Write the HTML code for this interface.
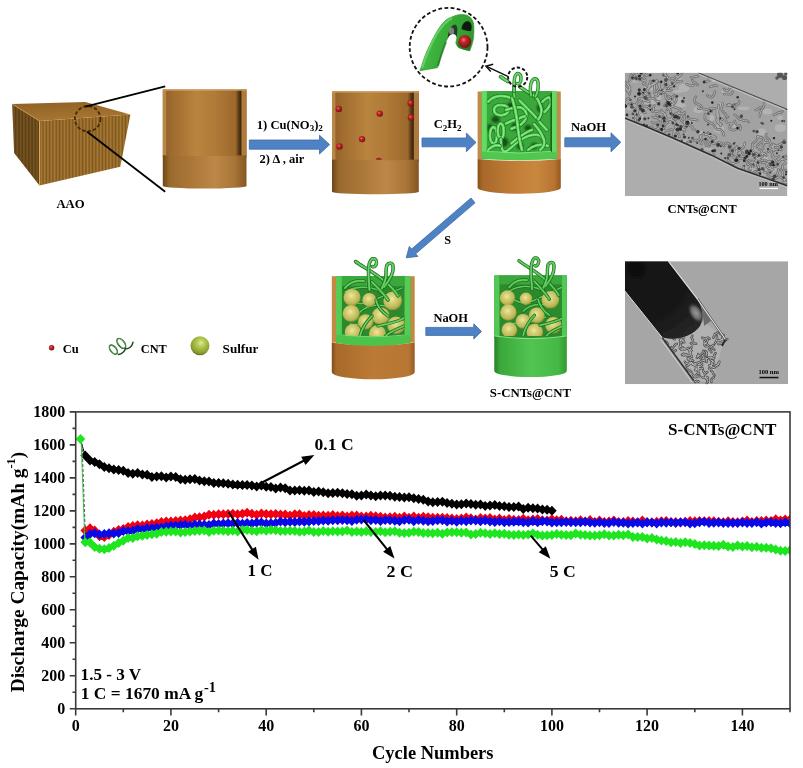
<!DOCTYPE html>
<html><head><meta charset="utf-8"><title>S-CNTs@CNT</title>
<style>
html,body{margin:0;padding:0;background:#fff;}
body{width:803px;height:768px;overflow:hidden;}
svg{display:block;}
text{font-family:"Liberation Serif","Times New Roman",serif;font-weight:bold;fill:#000;}
</style></head><body>
<svg width="803" height="768" viewBox="0 0 803 768">
<defs>
<linearGradient id="bIn" x1="0" x2="1" y1="0" y2="0">
 <stop offset="0" stop-color="#8e5e26"/><stop offset="0.12" stop-color="#a06c30"/>
 <stop offset="0.4" stop-color="#b8843e"/><stop offset="0.62" stop-color="#b07a38"/>
 <stop offset="0.9" stop-color="#9a662a"/><stop offset="1" stop-color="#845620"/>
</linearGradient>
<linearGradient id="bOut" x1="0" x2="1" y1="0" y2="0">
 <stop offset="0" stop-color="#6e4616"/><stop offset="0.08" stop-color="#9a6a2c"/>
 <stop offset="0.35" stop-color="#ac783a"/><stop offset="0.62" stop-color="#bc8848"/>
 <stop offset="0.85" stop-color="#aa7638"/><stop offset="1" stop-color="#845620"/>
</linearGradient>
<linearGradient id="bOut2" x1="0" x2="1" y1="0" y2="0">
 <stop offset="0" stop-color="#8a5016"/><stop offset="0.06" stop-color="#a8682a"/>
 <stop offset="0.45" stop-color="#c27e38"/><stop offset="0.7" stop-color="#c8883e"/>
 <stop offset="0.92" stop-color="#b87432"/><stop offset="1" stop-color="#94581c"/>
</linearGradient>
<linearGradient id="bOut3" x1="0" x2="1" y1="0" y2="0">
 <stop offset="0" stop-color="#7e4a16"/><stop offset="0.05" stop-color="#a86a2a"/>
 <stop offset="0.5" stop-color="#bc7a36"/><stop offset="0.93" stop-color="#b87634"/>
 <stop offset="1" stop-color="#965c22"/>
</linearGradient>
<linearGradient id="gIn" x1="0" x2="1" y1="0" y2="0">
 <stop offset="0" stop-color="#2f9a2f"/><stop offset="0.4" stop-color="#46b446"/>
 <stop offset="0.8" stop-color="#3aa63a"/><stop offset="1" stop-color="#2a8a2a"/>
</linearGradient>
<linearGradient id="gOut" x1="0" x2="1" y1="0" y2="0">
 <stop offset="0" stop-color="#267e26"/><stop offset="0.08" stop-color="#3aa83a"/>
 <stop offset="0.5" stop-color="#52c452"/><stop offset="0.88" stop-color="#46b846"/>
 <stop offset="1" stop-color="#329a32"/>
</linearGradient>
<linearGradient id="gWall" x1="0" x2="1" y1="0" y2="0">
 <stop offset="0" stop-color="#5cd05c"/><stop offset="1" stop-color="#78e078"/>
</linearGradient>
<radialGradient id="cu" cx="0.4" cy="0.38" r="0.68">
 <stop offset="0" stop-color="#f08080"/><stop offset="0.3" stop-color="#c42828"/>
 <stop offset="0.8" stop-color="#8a1414"/><stop offset="1" stop-color="#5a0c0c"/>
</radialGradient>
<radialGradient id="sul" cx="0.45" cy="0.4" r="0.62">
 <stop offset="0" stop-color="#eee8a0"/><stop offset="0.3" stop-color="#d8d27a"/>
 <stop offset="0.75" stop-color="#bdb858"/><stop offset="1" stop-color="#8c8a34"/>
</radialGradient>
<pattern id="stripes" width="3.3" height="10" patternUnits="userSpaceOnUse" x="0.5">
 <rect width="3.3" height="10" fill="#7e561c"/><rect x="0.4" width="1.7" height="10" fill="#a87a36"/>
</pattern>
<pattern id="stripesL" width="3.3" height="10" patternUnits="userSpaceOnUse">
 <rect width="3.3" height="10" fill="#6e4a16"/><rect width="1.5" height="10" fill="#86602a"/>
</pattern>
<radialGradient id="sulL" cx="0.55" cy="0.35" r="0.7">
 <stop offset="0" stop-color="#dcea9c"/><stop offset="0.3" stop-color="#b4ca50"/>
 <stop offset="0.75" stop-color="#8aa030"/><stop offset="1" stop-color="#4e5e14"/>
</radialGradient>
<linearGradient id="shadowR" x1="0" x2="1" y1="0" y2="0">
 <stop offset="0" stop-color="#3a2410" stop-opacity="0"/><stop offset="0.55" stop-color="#3a2410" stop-opacity="0.7"/><stop offset="1" stop-color="#2a1a08" stop-opacity="0.95"/>
</linearGradient>
<linearGradient id="blueA" x1="0" x2="0" y1="0" y2="1">
 <stop offset="0" stop-color="#5a8ccc"/><stop offset="1" stop-color="#4674b4"/>
</linearGradient>
</defs>
<rect width="803" height="768" fill="#fff"/>
<polygon points="12.2,104.1 39.5,121 39.5,185.4 14.1,152.9" fill="url(#stripesL)"/>
<polygon points="39.5,121 130.4,114.4 120.3,166.7 39.5,185.4" fill="url(#stripes)"/>
<linearGradient id="aaoTop" x1="0" y1="0" x2="0.3" y2="1"><stop offset="0" stop-color="#8e6024"/><stop offset="1" stop-color="#a87632"/></linearGradient>
<polygon points="12.2,104.1 85.4,101.9 130.4,114.4 39.5,121" fill="url(#aaoTop)"/>
<polygon points="12.2,104.1 39.5,121 39.5,185.4 14.1,152.9" fill="#000" opacity="0.12"/>
<line x1="39.5" y1="121" x2="39.5" y2="185.4" stroke="#d8a868" stroke-width="1"/>
<line x1="12.2" y1="104.1" x2="39.5" y2="121" stroke="#c89858" stroke-width="0.8"/>
<ellipse cx="87.7" cy="118.8" rx="12.8" ry="12.6" fill="none" stroke="#4a2808" stroke-width="1.8" stroke-dasharray="3.5,2"/>
<line x1="85.4" y1="106.6" x2="165.2" y2="86.3" stroke="#000" stroke-width="1.8"/>
<line x1="87.2" y1="131.8" x2="165.2" y2="191.7" stroke="#000" stroke-width="1.8"/>
<text x="56.4" y="207.9" font-size="12.6" textLength="28.2" lengthAdjust="spacingAndGlyphs">AAO</text>
<rect x="162.8" y="89.4" width="83.7" height="68.1" fill="url(#bIn)"/>
<rect x="162.8" y="89.4" width="3.4" height="66.1" fill="#b88646"/>
<rect x="235.5" y="90.4" width="6.2" height="65.1" fill="url(#shadowR)"/>
<rect x="241.5" y="89.4" width="5.0" height="66.1" fill="#ae7a3e"/>
<rect x="162.8" y="89.4" width="83.7" height="1.4" fill="#d4a060" opacity="0.8"/>
<path d="M162.8 155.5Q204.7 156.7 246.5 155.5V186.0A41.8 2.6 0 0 1 162.8 186.0Z" fill="url(#bOut)"/>
<polygon points="249.3,140.0 319.5,140.0 319.5,135.2 329.6,144.6 319.5,154.0 319.5,149.2 249.3,149.2" fill="#4f82c4" stroke="#3c6aa6" stroke-width="0.8"/>
<text x="256.8" y="128.5" font-size="12.6">1) Cu(NO<tspan font-size="9" dy="2.5">3</tspan><tspan dy="-2.5">)</tspan><tspan font-size="9" dy="2.5">2</tspan></text>
<text x="259.6" y="162.5" font-size="12.6" textLength="44.6" lengthAdjust="spacingAndGlyphs">2) Δ , air</text>
<rect x="332.0" y="91.3" width="86.8" height="70.4" fill="url(#bIn)"/>
<rect x="332.0" y="91.3" width="3.4" height="68.4" fill="#b88646"/>
<rect x="407.8" y="92.3" width="6.2" height="67.4" fill="url(#shadowR)"/>
<rect x="413.8" y="91.3" width="5.0" height="68.4" fill="#ae7a3e"/>
<rect x="332.0" y="91.3" width="86.8" height="1.4" fill="#d4a060" opacity="0.8"/>
<path d="M332.0 159.7Q375.4 160.9 418.8 159.7V191.8A43.4 2.4 0 0 1 332.0 191.8Z" fill="url(#bOut)"/>
<circle cx="338.8" cy="108.9" r="3.2" fill="url(#cu)"/>
<circle cx="379.7" cy="113.6" r="3.2" fill="url(#cu)"/>
<circle cx="410.6" cy="103.1" r="3.2" fill="url(#cu)"/>
<circle cx="410.9" cy="117.5" r="3.2" fill="url(#cu)"/>
<circle cx="362.0" cy="139.1" r="3.2" fill="url(#cu)"/>
<circle cx="339.5" cy="146.4" r="3.2" fill="url(#cu)"/>
<path d="M375.8 159.8 A3 2 0 0 1 381.8 159.8Z" fill="#a02020"/>
<polygon points="422.0,138.0 466.4,138.0 466.4,133.1 476.0,142.4 466.4,151.7 466.4,146.8 422.0,146.8" fill="#4f82c4" stroke="#3c6aa6" stroke-width="0.8"/>
<text x="433.7" y="128.4" font-size="12.6">C<tspan font-size="9" dy="2.5">2</tspan><tspan dy="-2.5">H</tspan><tspan font-size="9" dy="2.5">2</tspan></text>
<rect x="477.6" y="91.5" width="4.8" height="68.3" fill="#c08a4a"/>
<rect x="556.3" y="91.5" width="4.5" height="68.3" fill="#c08a4a"/>
<rect x="481.8" y="91.0" width="74.8" height="68.3" fill="#3aa83a"/>
<rect x="481.8" y="91.0" width="5" height="64.3" fill="#62dc62"/>
<rect x="551.9" y="91.0" width="4.7" height="64.3" fill="#62dc62"/>
<rect x="550.4" y="93.0" width="1.6" height="60.3" fill="#1e5e1e"/>
<clipPath id="c3in"><rect x="486.8" y="91" width="63.6" height="62"/></clipPath>
<filter id="blur1" x="-50%" y="-50%" width="200%" height="200%"><feGaussianBlur stdDeviation="1.2"/></filter>
<g clip-path="url(#c3in)">
<ellipse cx="504.0" cy="142.3" rx="4.2" ry="4.7" fill="#103a10" opacity="0.8" filter="url(#blur1)"/>
<ellipse cx="495.6" cy="119.4" rx="3.9" ry="3.4" fill="#103a10" opacity="0.8" filter="url(#blur1)"/>
<ellipse cx="511.3" cy="105.8" rx="4.4" ry="3.4" fill="#103a10" opacity="0.8" filter="url(#blur1)"/>
<ellipse cx="515.4" cy="126.7" rx="3.9" ry="3.9" fill="#103a10" opacity="0.8" filter="url(#blur1)"/>
<ellipse cx="528.0" cy="128.0" rx="3.4" ry="2.9" fill="#103a10" opacity="0.8" filter="url(#blur1)"/>
<ellipse cx="540.0" cy="108.0" rx="3.1" ry="3.9" fill="#103a10" opacity="0.8" filter="url(#blur1)"/>
<ellipse cx="520.0" cy="146.0" rx="3.1" ry="3.1" fill="#103a10" opacity="0.8" filter="url(#blur1)"/>
<ellipse cx="534.0" cy="146.0" rx="2.6" ry="3.2" fill="#103a10" opacity="0.8" filter="url(#blur1)"/>
<ellipse cx="490.0" cy="128.0" rx="2.6" ry="3.9" fill="#103a10" opacity="0.8" filter="url(#blur1)"/>
<path d="M488.3 101.7 C491 98 495 96.5 500 96 C505 95.8 509 96.8 511.3 98.5" fill="none" stroke="#1a5e1a" stroke-width="4.0" stroke-linecap="round"/><path d="M488.3 101.7 C491 98 495 96.5 500 96 C505 95.8 509 96.8 511.3 98.5" fill="none" stroke="#5ad45a" stroke-width="3.0" stroke-linecap="round"/><path d="M488.3 101.7 C491 98 495 96.5 500 96 C505 95.8 509 96.8 511.3 98.5" fill="none" stroke="#a4f4a4" stroke-width="1.0" stroke-linecap="round" opacity="0.8"/>
<path d="M494 110 C494 105 500 104 506 106 C510 108 509 114 503 115 C497 116 494 113 494 110" fill="none" stroke="#1a5e1a" stroke-width="4.0" stroke-linecap="round"/><path d="M494 110 C494 105 500 104 506 106 C510 108 509 114 503 115 C497 116 494 113 494 110" fill="none" stroke="#5ad45a" stroke-width="3.0" stroke-linecap="round"/><path d="M494 110 C494 105 500 104 506 106 C510 108 509 114 503 115 C497 116 494 113 494 110" fill="none" stroke="#a4f4a4" stroke-width="1.0" stroke-linecap="round" opacity="0.8"/>
<path d="M506 110 C512 108 518 106 521.7 107.9 C526 110 527 114 525.8 118 C525 122 520 126 511.3 128.8" fill="none" stroke="#1a5e1a" stroke-width="4.0" stroke-linecap="round"/><path d="M506 110 C512 108 518 106 521.7 107.9 C526 110 527 114 525.8 118 C525 122 520 126 511.3 128.8" fill="none" stroke="#5ad45a" stroke-width="3.0" stroke-linecap="round"/><path d="M506 110 C512 108 518 106 521.7 107.9 C526 110 527 114 525.8 118 C525 122 520 126 511.3 128.8" fill="none" stroke="#a4f4a4" stroke-width="1.0" stroke-linecap="round" opacity="0.8"/>
<path d="M493.5 127 C489 128 488.5 142 493.5 143.5 C498 144 498 128 493.5 127" fill="none" stroke="#1a5e1a" stroke-width="4.0" stroke-linecap="round"/><path d="M493.5 127 C489 128 488.5 142 493.5 143.5 C498 144 498 128 493.5 127" fill="none" stroke="#5ad45a" stroke-width="3.0" stroke-linecap="round"/><path d="M493.5 127 C489 128 488.5 142 493.5 143.5 C498 144 498 128 493.5 127" fill="none" stroke="#a4f4a4" stroke-width="1.0" stroke-linecap="round" opacity="0.8"/>
<path d="M500.8 123.5 C497 124 496.5 137 500.8 138.2 C505 138.5 504.5 123.5 500.8 123.5" fill="none" stroke="#1a5e1a" stroke-width="4.0" stroke-linecap="round"/><path d="M500.8 123.5 C497 124 496.5 137 500.8 138.2 C505 138.5 504.5 123.5 500.8 123.5" fill="none" stroke="#5ad45a" stroke-width="3.0" stroke-linecap="round"/><path d="M500.8 123.5 C497 124 496.5 137 500.8 138.2 C505 138.5 504.5 123.5 500.8 123.5" fill="none" stroke="#a4f4a4" stroke-width="1.0" stroke-linecap="round" opacity="0.8"/>
<path d="M500.8 139.2 C501 146 502 151 504 151.7 C507 152 509 149 511.3 147.5 C515 144 518 141 521.7 139.2 C527 136 533 134 538.3 135 C541 135.5 542 137 542.5 139.2" fill="none" stroke="#1a5e1a" stroke-width="4.0" stroke-linecap="round"/><path d="M500.8 139.2 C501 146 502 151 504 151.7 C507 152 509 149 511.3 147.5 C515 144 518 141 521.7 139.2 C527 136 533 134 538.3 135 C541 135.5 542 137 542.5 139.2" fill="none" stroke="#5ad45a" stroke-width="3.0" stroke-linecap="round"/><path d="M500.8 139.2 C501 146 502 151 504 151.7 C507 152 509 149 511.3 147.5 C515 144 518 141 521.7 139.2 C527 136 533 134 538.3 135 C541 135.5 542 137 542.5 139.2" fill="none" stroke="#a4f4a4" stroke-width="1.0" stroke-linecap="round" opacity="0.8"/>
<path d="M519.6 100.6 C523 104 527 108 530 111 C533 114 536 117 538.3 120.4 C541 124 544 127 546.7 129.8" fill="none" stroke="#1a5e1a" stroke-width="4.0" stroke-linecap="round"/><path d="M519.6 100.6 C523 104 527 108 530 111 C533 114 536 117 538.3 120.4 C541 124 544 127 546.7 129.8" fill="none" stroke="#5ad45a" stroke-width="3.0" stroke-linecap="round"/><path d="M519.6 100.6 C523 104 527 108 530 111 C533 114 536 117 538.3 120.4 C541 124 544 127 546.7 129.8" fill="none" stroke="#a4f4a4" stroke-width="1.0" stroke-linecap="round" opacity="0.8"/>
<path d="M530 93.3 C534 95 537 98 538.3 100.6 C540 104 541.5 107 541.5 111 C541.5 115 540 117 538.3 119.4" fill="none" stroke="#1a5e1a" stroke-width="4.0" stroke-linecap="round"/><path d="M530 93.3 C534 95 537 98 538.3 100.6 C540 104 541.5 107 541.5 111 C541.5 115 540 117 538.3 119.4" fill="none" stroke="#5ad45a" stroke-width="3.0" stroke-linecap="round"/><path d="M530 93.3 C534 95 537 98 538.3 100.6 C540 104 541.5 107 541.5 111 C541.5 115 540 117 538.3 119.4" fill="none" stroke="#a4f4a4" stroke-width="1.0" stroke-linecap="round" opacity="0.8"/>
<path d="M542.5 101.7 C545 99 547 97.5 548.8 97.5 C551 98 551 101 550.8 103.8 C549 107 547 110 544.6 112" fill="none" stroke="#1a5e1a" stroke-width="4.0" stroke-linecap="round"/><path d="M542.5 101.7 C545 99 547 97.5 548.8 97.5 C551 98 551 101 550.8 103.8 C549 107 547 110 544.6 112" fill="none" stroke="#5ad45a" stroke-width="3.0" stroke-linecap="round"/><path d="M542.5 101.7 C545 99 547 97.5 548.8 97.5 C551 98 551 101 550.8 103.8 C549 107 547 110 544.6 112" fill="none" stroke="#a4f4a4" stroke-width="1.0" stroke-linecap="round" opacity="0.8"/>
<path d="M506 123.5 C510 121.5 513 120 516.5 119.4 C520 118 522 117 524.8 116.3" fill="none" stroke="#1a5e1a" stroke-width="4.0" stroke-linecap="round"/><path d="M506 123.5 C510 121.5 513 120 516.5 119.4 C520 118 522 117 524.8 116.3" fill="none" stroke="#5ad45a" stroke-width="3.0" stroke-linecap="round"/><path d="M506 123.5 C510 121.5 513 120 516.5 119.4 C520 118 522 117 524.8 116.3" fill="none" stroke="#a4f4a4" stroke-width="1.0" stroke-linecap="round" opacity="0.8"/>
<path d="M511.3 143.3 C515 140 519 137 523.8 134 C527 132 530 130.5 532 129.8" fill="none" stroke="#1a5e1a" stroke-width="4.0" stroke-linecap="round"/><path d="M511.3 143.3 C515 140 519 137 523.8 134 C527 132 530 130.5 532 129.8" fill="none" stroke="#5ad45a" stroke-width="3.0" stroke-linecap="round"/><path d="M511.3 143.3 C515 140 519 137 523.8 134 C527 132 530 130.5 532 129.8" fill="none" stroke="#a4f4a4" stroke-width="1.0" stroke-linecap="round" opacity="0.8"/>
<path d="M512 98 C514 104 516 112 517 120 C518 130 519 140 522 150" fill="none" stroke="#1a5e1a" stroke-width="4.0" stroke-linecap="round"/><path d="M512 98 C514 104 516 112 517 120 C518 130 519 140 522 150" fill="none" stroke="#5ad45a" stroke-width="3.0" stroke-linecap="round"/><path d="M512 98 C514 104 516 112 517 120 C518 130 519 140 522 150" fill="none" stroke="#a4f4a4" stroke-width="1.0" stroke-linecap="round" opacity="0.8"/>
<path d="M488 150 C492 146 497 144 500 146" fill="none" stroke="#1a5e1a" stroke-width="4.0" stroke-linecap="round"/><path d="M488 150 C492 146 497 144 500 146" fill="none" stroke="#5ad45a" stroke-width="3.0" stroke-linecap="round"/><path d="M488 150 C492 146 497 144 500 146" fill="none" stroke="#a4f4a4" stroke-width="1.0" stroke-linecap="round" opacity="0.8"/>
<path d="M528 150 C532 146 540 143 548 146" fill="none" stroke="#1a5e1a" stroke-width="4.0" stroke-linecap="round"/><path d="M528 150 C532 146 540 143 548 146" fill="none" stroke="#5ad45a" stroke-width="3.0" stroke-linecap="round"/><path d="M528 150 C532 146 540 143 548 146" fill="none" stroke="#a4f4a4" stroke-width="1.0" stroke-linecap="round" opacity="0.8"/>
<path d="M534 124 C538 128 542 134 544 140 C545 144 543 148 540 150" fill="none" stroke="#1a5e1a" stroke-width="4.0" stroke-linecap="round"/><path d="M534 124 C538 128 542 134 544 140 C545 144 543 148 540 150" fill="none" stroke="#5ad45a" stroke-width="3.0" stroke-linecap="round"/><path d="M534 124 C538 128 542 134 544 140 C545 144 543 148 540 150" fill="none" stroke="#a4f4a4" stroke-width="1.0" stroke-linecap="round" opacity="0.8"/>
</g>
<path d="M481.8 151.5 Q519 154.5 556.6 151.5 V158.5 Q519 162 481.8 158.5Z" fill="#50c850"/>
<path d="M486.8 151.5 Q519 154.5 551 151.5" fill="none" stroke="#7ee67e" stroke-width="1"/>
<path d="M477.6 159.3Q519.2 162.3 560.8 159.3V187.8A41.6 6.0 0 0 1 477.6 187.8Z" fill="url(#bOut2)"/>
<path d="M514.4 86 C514 89 514 92 514.4 97" fill="none" stroke="#1c6a1c" stroke-width="3.4" stroke-linecap="round"/><path d="M514.4 86 C514 89 514 92 514.4 97" fill="none" stroke="#4cc04c" stroke-width="2.4" stroke-linecap="round"/><path d="M514.4 86 C514 89 514 92 514.4 97" fill="none" stroke="#8ae88a" stroke-width="0.8" stroke-linecap="round" opacity="0.8"/>
<path d="M500.6 76.8 C503 78.5 505.5 80 507.8 81.5" fill="none" stroke="#1a5e1a" stroke-width="3.6" stroke-linecap="round"/><path d="M500.6 76.8 C503 78.5 505.5 80 507.8 81.5" fill="none" stroke="#4cc44c" stroke-width="2.6" stroke-linecap="round"/><path d="M500.6 76.8 C503 78.5 505.5 80 507.8 81.5" fill="none" stroke="#96ee96" stroke-width="0.9" stroke-linecap="round" opacity="0.8"/>
<path d="M514.2 91 C514 86 514 82 514.6 78 C515.2 74.5 517 73.3 518.6 73.6 C520.6 74.2 521.2 77.5 520.8 80.5 C520.4 83.2 518.6 84.4 517 83.6" fill="none" stroke="#1a5e1a" stroke-width="3.4" stroke-linecap="round"/><path d="M514.2 91 C514 86 514 82 514.6 78 C515.2 74.5 517 73.3 518.6 73.6 C520.6 74.2 521.2 77.5 520.8 80.5 C520.4 83.2 518.6 84.4 517 83.6" fill="none" stroke="#4cc44c" stroke-width="2.4" stroke-linecap="round"/><path d="M514.2 91 C514 86 514 82 514.6 78 C515.2 74.5 517 73.3 518.6 73.6 C520.6 74.2 521.2 77.5 520.8 80.5 C520.4 83.2 518.6 84.4 517 83.6" fill="none" stroke="#96ee96" stroke-width="0.8" stroke-linecap="round" opacity="0.8"/>
<path d="M520 87 C523 89 527 91.5 531 94" fill="none" stroke="#1a5e1a" stroke-width="3.4" stroke-linecap="round"/><path d="M520 87 C523 89 527 91.5 531 94" fill="none" stroke="#4cc44c" stroke-width="2.4" stroke-linecap="round"/><path d="M520 87 C523 89 527 91.5 531 94" fill="none" stroke="#96ee96" stroke-width="0.8" stroke-linecap="round" opacity="0.8"/>
<path d="M531 95.5 C530 90 530.5 83 532.5 80 C534.5 77.6 537.5 78.5 538 82.5 C538.6 87 537.5 93 535.5 96.5" fill="none" stroke="#1a5e1a" stroke-width="3.4" stroke-linecap="round"/><path d="M531 95.5 C530 90 530.5 83 532.5 80 C534.5 77.6 537.5 78.5 538 82.5 C538.6 87 537.5 93 535.5 96.5" fill="none" stroke="#4cc44c" stroke-width="2.4" stroke-linecap="round"/><path d="M531 95.5 C530 90 530.5 83 532.5 80 C534.5 77.6 537.5 78.5 538 82.5 C538.6 87 537.5 93 535.5 96.5" fill="none" stroke="#96ee96" stroke-width="0.8" stroke-linecap="round" opacity="0.8"/>
<circle cx="517.7" cy="77.1" r="9.6" fill="none" stroke="#111" stroke-width="1.9" stroke-dasharray="3.4,2.1"/>
<line x1="507.8" y1="76.4" x2="486.5" y2="66.4" stroke="#111" stroke-width="1.5"/>
<polyline points="493.2,64.2 485.9,66.2 490.8,71.6" fill="none" stroke="#111" stroke-width="1.5"/>
<ellipse cx="448.6" cy="47.2" rx="38.9" ry="39.3" fill="none" stroke="#111" stroke-width="1.8" stroke-dasharray="3.8,2.4"/>
<linearGradient id="tubeG" x1="0" y1="0" x2="1" y2="0.3"><stop offset="0" stop-color="#52c652"/><stop offset="0.5" stop-color="#3aae3a"/><stop offset="1" stop-color="#2e9a2e"/></linearGradient>
<path d="M420 70.7 C424 58 427 50 430 44.8 C434 36 437 31 439.9 26.9 C444 21 448 18 451.8 17 C455 15.5 458 14.5 461.8 14.5 C466 14.5 468 15.5 469.8 17 C472 19 473.5 21.5 473.7 24.9 C474 28 474 31 473.7 34.9 C473.5 40 472.5 44 469.8 50.8 C466 50 462 49 458.8 47.8 C457 46 456 44 455.8 42.8 C456.5 40 457 38 456.8 36.9 C456 34 455 33 453.8 32.9 C451 33 449 35 447.8 37.9 C445 43 444 46 442.9 49.8 C441 56 439 62 437.4 67.7 Z" fill="url(#tubeG)" stroke="#2a8a2a" stroke-width="0.6"/>
<path d="M422 68 C426 56 430 46 436 35 C441 27 446 21 452 18" fill="none" stroke="#6ad86a" stroke-width="2.2" opacity="0.8"/>
<path d="M438 66 C440 58 443 50 446 42" fill="none" stroke="#1e6e1e" stroke-width="2" opacity="0.7"/>
<path d="M447.8 37.9 C448 31 451 25 455 24.5 C458 25 457.5 31 456.8 36.9 C455 33 451 33 447.8 37.9Z" fill="#2a3a2a"/>
<ellipse cx="451.5" cy="31" rx="2.6" ry="3.6" fill="#8a9a8a" opacity="0.8"/>
<path d="M461.5 29 C462 23 466 20.5 469 21.5 C472 23 472 28 471 31 C468 31 464 30.5 461.5 29Z" fill="#0e1a0e"/>
<path d="M457.5 46 C457 42 460 37 464 36 L470 40 C471 45 470 49 469.8 50.8 C465 50 460 49 457.5 46Z" fill="#2a7a2a"/>
<circle cx="464.8" cy="41.4" r="6.4" fill="url(#cu)"/>
<polygon points="564.8,137.8 611.0,137.8 611.0,132.8 620.8,142.3 611.0,151.8 611.0,146.8 564.8,146.8" fill="#4f82c4" stroke="#3c6aa6" stroke-width="0.8"/>
<text x="570.9" y="130.7" font-size="12.6" textLength="35.2" lengthAdjust="spacingAndGlyphs">NaOH</text>
<clipPath id="t1"><rect x="624.8" y="72.8" width="162.6" height="123.3"/></clipPath>
<filter id="soft" x="-5%%" y="-5%%" width="110%%" height="110%%"><feGaussianBlur stdDeviation="0.6"/></filter>
<g clip-path="url(#t1)">
<rect x="624.8" y="72.8" width="162.6" height="123.3" fill="#adadad"/>
<polygon points="624.8,72.8 698.4,72.8 787.4,109.4 787.4,185.7 737.7,168.2 711.5,155.2 672.3,137.7 644,125.7 624.8,118.1" fill="#a2a2a2"/>
<clipPath id="t1b"><polygon points="624.8,72.8 698.4,72.8 787.4,109.4 787.4,185.7 737.7,168.2 711.5,155.2 672.3,137.7 644,125.7 624.8,118.1"/></clipPath>
<g clip-path="url(#t1b)" filter="url(#soft)">
<ellipse cx="677.5" cy="91.4" rx="4.6" ry="1.7" fill="#b8b8b8" opacity="0.8"/>
<ellipse cx="711.9" cy="117.9" rx="2.2" ry="2.8" fill="#b8b8b8" opacity="0.8"/>
<ellipse cx="630.9" cy="126.3" rx="2.3" ry="1.7" fill="#b8b8b8" opacity="0.8"/>
<ellipse cx="693.8" cy="174.8" rx="2.5" ry="2.1" fill="#b8b8b8" opacity="0.8"/>
<ellipse cx="726.8" cy="189.7" rx="4.3" ry="2.5" fill="#b8b8b8" opacity="0.8"/>
<ellipse cx="783.5" cy="78.5" rx="5.4" ry="2.2" fill="#b8b8b8" opacity="0.8"/>
<ellipse cx="648.3" cy="87.3" rx="3.2" ry="3.5" fill="#b8b8b8" opacity="0.8"/>
<ellipse cx="654.2" cy="144.5" rx="4.6" ry="2.4" fill="#b8b8b8" opacity="0.8"/>
<ellipse cx="713.9" cy="80.5" rx="2.2" ry="2.0" fill="#b8b8b8" opacity="0.8"/>
<ellipse cx="735.4" cy="125.5" rx="3.3" ry="3.0" fill="#b8b8b8" opacity="0.8"/>
<ellipse cx="698.5" cy="109.8" rx="5.2" ry="3.2" fill="#b8b8b8" opacity="0.8"/>
<ellipse cx="664.5" cy="143.6" rx="4.1" ry="3.7" fill="#b8b8b8" opacity="0.8"/>
<ellipse cx="743.4" cy="108.3" rx="5.9" ry="1.8" fill="#b8b8b8" opacity="0.8"/>
<ellipse cx="692.8" cy="166.2" rx="2.6" ry="2.7" fill="#b8b8b8" opacity="0.8"/>
<ellipse cx="631.2" cy="155.2" rx="5.1" ry="2.9" fill="#b8b8b8" opacity="0.8"/>
<ellipse cx="767.2" cy="111.5" rx="4.8" ry="3.0" fill="#b8b8b8" opacity="0.8"/>
<ellipse cx="719.1" cy="129.1" rx="5.4" ry="3.9" fill="#b8b8b8" opacity="0.8"/>
<ellipse cx="701.9" cy="154.7" rx="2.2" ry="3.3" fill="#b8b8b8" opacity="0.8"/>
<ellipse cx="730.0" cy="195.2" rx="5.3" ry="2.2" fill="#b8b8b8" opacity="0.8"/>
<ellipse cx="687.5" cy="155.2" rx="2.1" ry="2.7" fill="#b8b8b8" opacity="0.8"/>
<ellipse cx="652.1" cy="87.2" rx="2.2" ry="3.4" fill="#b8b8b8" opacity="0.8"/>
<ellipse cx="645.8" cy="103.3" rx="3.6" ry="3.7" fill="#b8b8b8" opacity="0.8"/>
<ellipse cx="637.9" cy="128.2" rx="4.2" ry="3.7" fill="#b8b8b8" opacity="0.8"/>
<ellipse cx="758.0" cy="179.3" rx="3.1" ry="2.5" fill="#b8b8b8" opacity="0.8"/>
<ellipse cx="683.1" cy="181.8" rx="5.8" ry="1.9" fill="#b8b8b8" opacity="0.8"/>
<ellipse cx="653.5" cy="101.4" rx="2.9" ry="2.7" fill="#b8b8b8" opacity="0.8"/>
<ellipse cx="720.6" cy="105.2" rx="2.0" ry="2.5" fill="#b8b8b8" opacity="0.8"/>
<ellipse cx="684.8" cy="142.6" rx="5.8" ry="3.2" fill="#b8b8b8" opacity="0.8"/>
<ellipse cx="708.6" cy="148.9" rx="4.7" ry="1.6" fill="#b8b8b8" opacity="0.8"/>
<ellipse cx="771.1" cy="169.0" rx="5.5" ry="3.5" fill="#b8b8b8" opacity="0.8"/>
<ellipse cx="688.6" cy="122.0" rx="2.4" ry="3.1" fill="#b8b8b8" opacity="0.8"/>
<ellipse cx="634.9" cy="81.1" rx="2.8" ry="1.9" fill="#b8b8b8" opacity="0.8"/>
<ellipse cx="680.1" cy="79.3" rx="2.0" ry="1.9" fill="#b8b8b8" opacity="0.8"/>
<ellipse cx="641.3" cy="117.6" rx="2.1" ry="3.7" fill="#b8b8b8" opacity="0.8"/>
<ellipse cx="724.6" cy="91.1" rx="3.0" ry="2.4" fill="#b8b8b8" opacity="0.8"/>
<ellipse cx="684.0" cy="87.9" rx="5.4" ry="4.0" fill="#b8b8b8" opacity="0.8"/>
<ellipse cx="700.6" cy="132.5" rx="2.3" ry="1.8" fill="#b8b8b8" opacity="0.8"/>
<ellipse cx="680.5" cy="105.4" rx="5.3" ry="1.9" fill="#b8b8b8" opacity="0.8"/>
<ellipse cx="628.6" cy="190.1" rx="4.1" ry="1.9" fill="#b8b8b8" opacity="0.8"/>
<ellipse cx="713.1" cy="76.1" rx="4.1" ry="3.9" fill="#b8b8b8" opacity="0.8"/>
<ellipse cx="765.2" cy="158.6" rx="3.0" ry="2.4" fill="#b8b8b8" opacity="0.8"/>
<ellipse cx="652.0" cy="168.0" rx="4.1" ry="3.4" fill="#b8b8b8" opacity="0.8"/>
<ellipse cx="678.4" cy="100.3" rx="5.2" ry="4.0" fill="#b8b8b8" opacity="0.8"/>
<ellipse cx="763.4" cy="172.2" rx="5.3" ry="3.3" fill="#b8b8b8" opacity="0.8"/>
<ellipse cx="661.7" cy="136.6" rx="3.4" ry="1.6" fill="#b8b8b8" opacity="0.8"/>
<ellipse cx="629.3" cy="107.3" rx="3.0" ry="3.2" fill="#b8b8b8" opacity="0.8"/>
<ellipse cx="780.3" cy="127.9" rx="5.7" ry="4.0" fill="#b8b8b8" opacity="0.8"/>
<ellipse cx="780.1" cy="117.8" rx="2.9" ry="2.1" fill="#b8b8b8" opacity="0.8"/>
<ellipse cx="656.8" cy="98.0" rx="4.5" ry="3.8" fill="#b8b8b8" opacity="0.8"/>
<ellipse cx="761.5" cy="131.9" rx="4.6" ry="3.5" fill="#b8b8b8" opacity="0.8"/>
<path d="M772.7 169.3 L770.9 170.8 L768.5 171.3 L766.4 172.4 L764.0 172.3 M778.7 162.2 L780.3 160.3 L782.1 158.8 L783.8 157.1 L785.9 155.9 M724.2 146.3 L722.5 144.7 L720.8 142.9 L718.4 142.6 L716.6 144.1 L714.3 143.8 L712.0 142.9 M672.4 102.5 L670.9 100.6 L668.5 100.4 L666.5 99.1 L665.7 96.9 L665.6 94.5 M757.3 136.5 L759.7 137.0 L762.0 137.5 L763.5 139.4 L764.0 141.7 L764.0 144.1 L762.8 146.2 L763.1 148.6 M644.4 80.4 L642.0 80.0 L640.1 78.5 L639.6 76.2 L637.6 74.9 L635.2 74.9 L633.5 76.6 L633.5 79.0 M698.3 76.2 L695.9 76.6 L693.6 76.9 L691.2 77.2 M737.4 128.6 L735.2 129.5 L733.0 130.3 L730.7 129.6 L729.6 127.4 L730.3 125.1 L732.3 123.8 M657.7 128.0 L659.6 129.5 L662.0 129.2 L664.0 127.9 L664.6 125.6 L665.8 123.5 L667.9 122.3 M770.7 91.8 L770.6 94.2 L768.8 95.8 L768.0 98.1 L765.7 99.0 L763.7 100.3 M785.0 170.0 L787.4 170.3 L788.9 172.1 L791.3 172.7 M762.9 156.1 L760.9 157.3 L758.7 158.5 L756.6 159.6 L755.0 161.4 L754.1 163.6 M754.8 95.4 L757.2 95.1 L759.4 96.1 L761.7 95.3 L763.9 96.0 L766.1 94.9 M668.4 88.7 L669.6 86.7 L672.0 86.3 L673.9 84.9 L674.8 82.7 L677.0 81.7 L679.4 81.3 L681.8 81.0 M658.3 127.8 L656.8 129.6 L654.4 129.6 L652.8 131.4 L653.1 133.8 M731.8 153.0 L730.5 150.9 L731.2 148.6 L731.0 146.2 L729.7 144.2 L727.6 143.1 L725.2 143.2 M768.2 162.7 L766.6 164.5 L766.9 166.9 L768.5 168.6 L770.9 168.7 M766.3 155.5 L765.0 153.5 L762.6 153.1 L760.4 154.1 L758.8 155.8 L759.2 158.2 M684.0 113.4 L682.3 115.0 L681.2 117.2 L680.7 119.5 L682.2 121.4 L684.1 122.8 M702.0 134.8 L700.8 136.9 L701.4 139.2 L700.7 141.5 L701.4 143.8 M727.2 83.2 L726.8 80.9 L727.9 78.8 L728.6 76.5 L728.6 74.1 M784.9 91.2 L786.4 93.1 L786.4 95.5 L785.8 97.8 L784.4 99.7 M756.9 90.0 L755.6 88.0 L753.2 87.6 L751.1 86.6 L749.8 84.5 L749.3 82.2 L750.7 80.2 L752.6 78.7 M638.6 78.0 L640.8 76.9 L642.8 75.6 L643.3 73.3 L641.9 71.4 L640.5 69.4 M664.6 105.3 L666.2 103.6 L667.9 101.9 L669.7 100.2 L671.8 99.2 L672.6 96.9 L674.2 95.2 M665.8 82.0 L664.9 84.2 L665.2 86.6 L664.8 89.0 L664.6 91.4 L663.1 93.2 M671.5 78.6 L673.9 78.2 L675.9 76.9 L678.3 76.5 L680.4 75.4 M737.3 156.1 L735.9 154.2 L734.4 152.3 L733.9 150.0 L735.4 148.1 L737.0 146.4 M671.9 82.2 L674.2 81.6 L676.0 80.0 L676.9 77.8 L679.1 76.8 L680.5 74.9 L682.2 73.2 L682.5 70.8 M739.2 101.3 L738.5 103.6 L736.3 104.7 L733.9 105.0 L731.6 105.7 L729.3 105.5 L726.9 105.6 M670.4 79.2 L668.1 78.6 L667.0 76.5 L665.6 74.5 L663.6 73.1 L662.6 71.0 M748.6 122.1 L746.8 120.6 L744.4 120.8 L742.2 120.0 L739.8 119.5 L738.0 118.0 L736.6 116.0 L734.5 114.7 M680.7 109.5 L679.5 111.6 L678.4 113.7 L676.7 115.4 L676.4 117.8 L675.5 120.0 M694.3 140.3 L696.6 141.0 L698.8 140.0 L700.2 138.1 L700.7 135.7 M634.9 107.0 L636.6 108.7 L637.8 110.8 L637.5 113.2 L638.4 115.4 L640.2 117.1 M665.2 122.1 L663.5 123.7 L661.1 124.2 L659.2 122.8 L656.8 122.8 L654.4 123.2 L652.1 122.4 M704.4 81.8 L706.8 81.7 L709.0 80.6 L709.8 78.3 L709.2 76.0 L708.7 73.7 L709.0 71.3 L710.9 69.8 M742.2 152.6 L743.4 154.7 L745.8 155.0 L747.8 153.8 L750.0 152.8 L750.8 150.5 L752.4 148.7 M781.3 150.0 L779.3 148.8 L776.9 149.3 L774.5 149.7 L772.1 149.7 L769.8 150.2 L768.0 151.8 M781.0 159.7 L783.3 159.2 L785.5 160.3 L787.2 162.0 L789.6 162.0 L791.7 160.9 M737.9 161.4 L736.0 160.0 L735.0 157.8 L735.0 155.4 L735.1 153.0 L733.9 150.9 M782.5 111.2 L780.6 112.7 L778.2 112.5 L776.2 113.9 L774.0 114.9 M721.7 124.0 L719.3 123.9 L717.6 122.3 L716.6 120.1 L717.7 117.9 M777.0 164.8 L775.3 166.5 L772.9 166.9 L771.1 165.3 M768.7 142.0 L766.4 142.7 L764.1 142.1 L761.8 141.8 L759.9 143.3 L758.1 144.8 L756.7 146.8 M756.8 167.3 L755.2 169.1 L752.9 169.8 L751.8 171.9 M656.5 80.5 L656.1 82.9 L654.1 84.3 L651.9 85.2 L650.2 86.9 L648.1 87.9 L646.3 89.5 L645.3 91.7 M773.8 151.0 L773.3 148.6 L773.7 146.3 L774.0 143.9 M751.0 170.2 L750.5 167.9 L749.9 165.5 L747.7 164.5 L746.9 162.3 L745.3 160.4 L744.5 158.2 M649.4 101.9 L647.1 101.3 L644.9 100.2 L642.8 99.2 L640.5 98.5 L638.2 99.3 M703.1 140.0 L705.1 141.3 L705.4 143.7 L706.6 145.7 L708.9 146.4 M762.5 154.7 L762.1 152.4 L760.8 150.3 L758.8 149.0 M666.1 104.9 L667.2 107.0 L669.3 108.1 L670.3 110.3 L670.9 112.7 L672.2 114.7 L673.9 116.4 M756.3 153.4 L758.2 154.7 L759.2 156.9 L758.6 159.3 M644.2 96.2 L646.3 97.2 L648.5 98.3 L650.9 98.1 L653.2 98.3 L655.2 99.6 L656.8 101.5 L659.2 101.5 M728.5 160.3 L729.5 162.5 L731.6 163.6 L734.0 163.5 L736.1 162.4 L738.4 161.7 M654.9 111.3 L657.3 111.7 L659.6 112.1 L662.0 112.1 L664.1 113.3 M732.8 91.9 L731.6 93.9 L729.2 94.3 L726.8 94.0 L724.4 94.1 M643.3 84.0 L644.9 82.2 L645.4 79.9 L643.8 78.1 L642.4 76.1 L641.6 73.8 L642.5 71.6 L641.7 69.4 M726.0 118.5 L725.9 120.9 L727.3 122.9 L729.6 123.4 L732.0 123.5 M755.6 110.0 L758.0 109.6 L759.4 107.6 L761.7 107.1 M660.9 122.7 L660.8 120.3 L659.5 118.3 L657.8 116.5 L656.3 114.7 M748.0 77.5 L746.2 79.2 L743.9 79.5 L741.6 78.6 M688.1 118.1 L690.3 119.0 L692.6 119.8 L695.0 119.4 L697.2 120.2 M707.8 77.8 L709.4 76.1 L711.6 75.1 L712.5 72.9 M629.0 81.0 L630.1 78.8 L629.9 76.5 L631.6 74.7 L633.2 73.0 L635.6 73.1 L637.4 74.7 L639.7 75.1 M635.5 116.1 L635.1 118.4 L635.7 120.8 L635.0 123.0 L635.8 125.3 L636.6 127.6 M654.4 92.7 L655.1 90.4 L654.3 88.1 L654.8 85.7 L653.7 83.6 L652.6 81.5 M728.3 117.2 L726.1 116.0 L725.3 113.8 L723.5 112.2 L721.9 110.4 L721.6 108.0 L722.3 105.8 L722.5 103.4 M673.0 136.4 L673.4 134.1 L674.2 131.8 L675.7 129.9 L676.4 127.6 L675.0 125.6 M630.3 91.2 L628.4 89.8 L626.2 88.8 L624.0 89.8 L621.8 90.8 L619.5 91.3 L618.2 93.4 L618.9 95.7 M717.0 110.3 L717.0 112.7 L716.7 115.0 L717.6 117.3 L717.9 119.6 L718.4 122.0 L720.2 123.5 L720.4 125.9 M664.4 91.2 L666.7 90.6 L669.1 90.8 L671.4 90.0 M769.9 146.1 L772.3 146.2 L774.5 145.3 L776.8 146.0 L778.9 144.8 L781.1 143.8 L783.0 142.4 L784.2 140.3 M723.7 135.3 L723.3 132.9 L722.1 130.9 L720.2 129.3 L717.8 129.6 L715.8 128.3 L714.7 126.2 M741.1 73.6 L742.8 75.3 L745.2 75.8 L746.3 77.9 L748.2 79.4 L749.6 81.3 L751.9 81.9 M728.2 156.5 L730.3 155.3 L732.6 155.9 L734.0 157.9 L736.3 158.4 L738.7 158.9 L740.9 158.0 L743.2 158.8 M722.6 119.6 L720.4 118.6 L718.7 116.9 L718.3 114.5 L717.7 112.2 L718.1 109.8 L718.7 107.5 L718.6 105.1 M648.3 76.1 L645.9 75.7 L644.7 73.7 L644.3 71.3 M629.8 89.9 L630.1 87.5 L628.6 85.6 L627.4 83.5 M642.2 98.2 L643.5 100.2 L643.0 102.6 L641.6 104.5 M753.6 152.5 L752.9 154.8 L754.1 156.8 L756.1 158.1 L758.5 158.6 L760.5 159.8 M684.6 112.4 L682.6 113.6 L680.2 113.8 L678.0 112.7 L675.8 113.7 L673.6 114.6 L672.5 116.7 L671.5 118.9 M709.9 108.4 L712.3 108.4 L714.7 108.4 L716.8 109.6 M670.9 99.3 L669.1 100.8 L667.0 101.9 L666.1 104.1 L664.3 105.7 M628.9 98.2 L626.7 99.1 L625.3 101.0 L622.9 101.2 L620.5 100.9 L619.1 98.9 M736.9 147.4 L736.1 149.7 L736.9 152.0 L736.1 154.3 M652.4 126.9 L650.0 127.3 L647.7 127.9 L645.5 126.8 L643.1 126.8 L641.1 128.1 M665.1 113.1 L664.7 115.4 L662.7 116.8 L661.5 118.9 L659.1 119.4 L657.3 117.9 L654.9 117.7 L652.6 116.9 M656.6 91.4 L658.2 89.6 L659.5 87.6 L659.6 85.2 L660.3 82.9 M642.2 98.3 L641.1 100.4 L638.9 101.5 L636.9 102.8 L635.8 104.9 L633.4 105.4 L631.4 106.7 M628.4 104.5 L630.6 103.5 L632.9 104.0 L635.0 105.3 L636.7 106.9 L638.1 108.9 L638.0 111.3 M733.4 153.3 L735.4 151.9 L737.7 151.1 L739.9 150.2 L741.6 148.5 L743.7 147.3 L744.4 145.0 L744.9 142.7 M752.0 160.7 L752.3 163.1 L752.8 165.5 L752.8 167.9 L753.2 170.2 M783.3 77.5 L784.7 75.5 L784.8 73.1 L784.3 70.8 L785.3 68.6 M684.9 115.1 L684.7 117.5 L685.0 119.9 L684.2 122.1 L684.9 124.4 L683.6 126.4 L682.9 128.7 M634.0 106.6 L636.2 105.7 L638.5 106.6 L640.5 108.0 L641.9 109.9 L643.1 112.0 L645.3 112.8 M674.1 122.2 L675.9 123.8 L676.0 126.2 L676.2 128.6 L677.7 130.4 L677.5 132.8 L679.0 134.7 L679.4 137.0 M759.9 170.9 L757.8 172.1 L755.7 173.2 L754.7 175.4 L752.7 176.7 L751.0 178.4 L748.7 178.9 M668.3 119.2 L670.6 119.7 L673.0 120.2 L674.7 121.8 L675.4 124.1 L676.6 126.2 M726.2 83.3 L728.5 83.8 L730.5 82.5 L732.9 82.5 L734.7 84.1 M752.3 90.1 L754.0 88.4 L756.4 88.5 L758.7 89.2 L761.0 88.9 L762.6 87.1 L762.8 84.7 L761.8 82.5 M771.8 170.4 L770.6 168.3 L771.3 166.1 L770.4 163.9 L771.1 161.6 M714.0 151.3 L713.9 153.7 L713.8 156.1 L712.6 158.2 L711.7 160.4 L709.5 161.5 M705.8 139.3 L707.7 140.8 L708.9 142.9 L710.1 145.0 M673.1 130.2 L670.8 129.5 L668.6 130.5 L666.3 130.9 L663.9 130.8 L662.2 132.5 L660.2 133.9 M707.8 132.6 L709.8 133.9 L711.4 135.7 L713.5 136.9 L714.4 139.2 M684.3 131.3 L683.2 129.2 L681.4 127.6 L679.2 126.7 L676.8 126.7 L675.2 128.5 L674.4 130.7 L674.1 133.1 M705.1 113.9 L704.9 116.3 L704.8 118.7 L706.2 120.7 L708.4 121.6 L710.2 123.2 L712.6 123.5 L714.0 125.4 M689.7 141.1 L687.6 142.3 L686.0 144.2 L686.5 146.5 L688.1 148.3 L688.1 150.7 L687.6 153.0 M772.7 148.2 L772.9 145.8 L771.2 144.1 L770.0 142.0 L769.3 139.8 L767.4 138.2 L766.0 136.3 L766.2 133.9 M693.3 85.2 L691.0 85.8 L688.7 85.1 L686.5 84.2 M666.8 110.0 L668.7 108.6 L670.7 107.4 L673.0 106.5 L675.2 107.3 L677.5 108.1 L679.7 109.1 M758.9 168.2 L758.1 165.9 L757.1 163.8 L754.8 163.1 L752.4 163.0 L750.1 162.4 L748.8 160.4 M659.3 91.5 L658.8 93.8 L657.5 95.9 L655.1 96.3 M701.6 106.8 L700.1 104.9 L697.8 104.6 L695.8 103.2 L694.4 101.2 L694.6 98.8 L695.7 96.7 M740.1 129.6 L740.7 127.3 L739.3 125.3 L737.0 124.9 L735.4 123.0 L734.5 120.8 M779.1 162.5 L776.9 161.4 L775.7 159.4 L774.0 157.7 L772.7 155.6 L772.0 153.3 L771.0 151.2 M778.4 169.5 L778.1 171.9 L777.3 174.2 L775.9 176.1 L773.7 177.0 L771.3 177.6 L769.2 176.5 L767.6 174.7 M627.3 91.4 L626.9 89.1 L625.5 87.1 L623.7 85.5 L621.6 84.3 L620.4 82.3 M662.9 128.4 L662.8 130.8 L664.1 132.8 L663.7 135.2 M748.9 169.4 L751.1 168.3 L753.4 168.7 L755.7 169.5 L758.1 169.2 L760.1 170.5 M756.0 157.2 L756.3 159.6 L756.4 162.0 L755.3 164.1 L755.4 166.5 L754.4 168.7 L752.2 169.6 M755.9 168.0 L754.0 169.4 L752.7 171.4 L750.5 172.4 L748.8 174.0 M764.1 103.2 L764.0 105.6 L763.2 107.8 L761.4 109.5 L760.9 111.8 L760.0 114.0 L759.8 116.4 M785.8 179.6 L783.4 179.5 L781.8 177.8 L779.6 176.8 L777.3 177.6 L775.1 178.5 L772.8 179.1 M723.8 88.9 L725.6 90.5 L728.0 90.3 L729.6 88.5 L731.3 86.8 L733.7 86.6 M772.8 80.7 L775.1 80.5 L776.7 78.7 L777.7 76.5 L777.5 74.1 L775.8 72.4 L775.6 70.0 M707.2 95.3 L709.0 96.8 L711.4 97.3 L713.3 95.8 L714.4 93.7 L714.9 91.4 M760.9 78.6 L763.2 77.9 L765.6 78.3 L767.0 80.3 L767.7 82.6 L769.1 84.5 L770.2 86.6 M666.6 88.1 L665.0 89.9 L662.7 90.6 L660.6 89.6 L659.6 87.4 L658.5 85.3 L659.1 83.0 M754.7 92.2 L757.0 92.8 L758.4 94.7 L760.7 95.5 M697.5 84.8 L695.7 83.2 L693.6 82.1 L692.3 80.1 M702.4 150.3 L700.5 151.7 L699.6 153.9 L699.0 156.2 L697.0 157.5 M664.9 75.9 L665.6 73.6 L664.8 71.3 L664.0 69.1 L662.6 67.2 L662.7 64.8 L661.3 62.9 L661.8 60.5 M671.3 104.6 L673.6 103.9 L675.4 102.3 L676.3 100.1 L676.1 97.7 M688.2 124.0 L690.0 125.7 L692.2 126.6 L692.9 128.9 L695.1 129.8 M773.1 99.7 L774.5 97.8 L774.9 95.4 L773.9 93.2 L773.3 90.9 M743.6 166.7 L743.8 169.1 L743.1 171.4 L741.3 172.9 L739.2 174.2 M657.7 80.9 L655.3 81.3 L654.0 83.3 L651.8 84.3 L650.0 85.8 L647.6 86.0 L645.5 84.8 L643.5 83.5 M668.1 95.7 L670.1 97.1 L671.9 98.7 L672.3 101.0 L673.4 103.2 L672.6 105.5 M773.2 168.9 L772.3 166.6 L770.7 164.9 L768.3 164.6 L766.3 163.3 L764.1 162.3 L761.9 163.2 M652.1 111.3 L651.1 109.1 L649.0 108.0 L647.3 106.3 L644.9 105.8 L643.0 107.2 L640.8 108.2 L638.5 108.9 M705.1 134.5 L707.5 134.6 L709.3 136.1 L711.0 137.8 L713.3 138.5 L715.6 138.0 M779.0 75.1 L777.3 73.4 L774.9 73.4 L773.3 71.7 L770.9 71.7 L768.5 72.2 L766.3 73.2 M761.2 161.0 L763.3 159.9 L765.7 160.2 L767.5 161.7 L769.9 161.5 L772.3 161.4 L774.0 163.1 L774.0 165.5 M665.3 124.8 L663.6 126.6 L663.6 129.0 L663.9 131.3 M782.5 168.6 L782.1 166.2 L783.3 164.1 L785.5 163.3 L786.4 161.1 L787.8 159.1 L788.3 156.8 M735.1 106.5 L732.8 105.8 L730.6 104.9 L728.3 104.3 M730.1 87.6 L730.6 85.3 L731.5 83.1 L733.7 82.1 L735.8 80.9 L737.9 79.8 L740.2 80.2 L741.7 82.2 M718.7 106.6 L718.3 109.0 L717.1 111.1 L717.1 113.5 L717.6 115.8 L717.9 118.2 L718.7 120.5 L717.9 122.7 M674.2 131.7 L676.6 131.5 L678.5 130.0 L680.5 128.7 L682.8 129.3 L685.2 129.5 M775.1 92.8 L772.8 92.0 L770.4 92.1 L768.8 90.3 L766.7 89.2 L765.3 87.2 M650.6 81.0 L649.6 83.2 L649.1 85.6 L648.9 88.0 L647.7 90.0 L648.1 92.4 M758.3 136.6 L757.5 138.9 L756.1 140.9 L754.2 142.3 L752.4 143.9 L752.2 146.3 L752.4 148.7 M786.2 91.2 L788.2 89.9 L789.9 88.2 L791.4 86.3 L792.8 84.3 L794.8 83.0 M672.4 121.0 L670.9 119.1 L668.5 119.2 L666.3 118.2 L665.7 115.8 L664.6 113.7 L662.8 112.1 L661.2 110.4 M782.9 182.7 L785.2 182.0 L787.4 183.0 L789.7 183.2 M712.0 111.3 L709.7 111.0 L707.5 109.8 L705.2 109.2 L702.8 109.1 L700.5 108.6 L698.1 108.8 M778.9 156.2 L776.9 157.5 L774.6 158.2 L772.5 157.1 M649.9 96.0 L647.5 96.4 L645.1 96.3 L643.7 94.4 L641.8 93.0 L640.0 91.4 L639.3 89.1 M652.6 112.0 L653.7 109.9 L653.3 107.6 L654.5 105.5 M785.8 182.3 L784.3 180.5 L784.0 178.1 L782.5 176.2 L782.7 173.8 L782.4 171.4 L780.6 169.9 M716.7 85.9 L714.4 85.2 L712.4 86.4 L710.0 86.9 M629.6 94.4 L628.5 92.3 L629.1 89.9 L629.7 87.6 L628.8 85.4 L626.9 83.9 L625.3 82.1 L623.0 81.7 M709.1 135.6 L711.5 135.7 L713.9 135.9 L715.8 137.4" fill="none" stroke="#6e6e6e" stroke-width="2.5" stroke-linecap="round" stroke-linejoin="round"/>
<path d="M772.7 169.3 L770.9 170.8 L768.5 171.3 L766.4 172.4 L764.0 172.3 M778.7 162.2 L780.3 160.3 L782.1 158.8 L783.8 157.1 L785.9 155.9 M724.2 146.3 L722.5 144.7 L720.8 142.9 L718.4 142.6 L716.6 144.1 L714.3 143.8 L712.0 142.9 M672.4 102.5 L670.9 100.6 L668.5 100.4 L666.5 99.1 L665.7 96.9 L665.6 94.5 M757.3 136.5 L759.7 137.0 L762.0 137.5 L763.5 139.4 L764.0 141.7 L764.0 144.1 L762.8 146.2 L763.1 148.6 M644.4 80.4 L642.0 80.0 L640.1 78.5 L639.6 76.2 L637.6 74.9 L635.2 74.9 L633.5 76.6 L633.5 79.0 M698.3 76.2 L695.9 76.6 L693.6 76.9 L691.2 77.2 M737.4 128.6 L735.2 129.5 L733.0 130.3 L730.7 129.6 L729.6 127.4 L730.3 125.1 L732.3 123.8 M657.7 128.0 L659.6 129.5 L662.0 129.2 L664.0 127.9 L664.6 125.6 L665.8 123.5 L667.9 122.3 M770.7 91.8 L770.6 94.2 L768.8 95.8 L768.0 98.1 L765.7 99.0 L763.7 100.3 M785.0 170.0 L787.4 170.3 L788.9 172.1 L791.3 172.7 M762.9 156.1 L760.9 157.3 L758.7 158.5 L756.6 159.6 L755.0 161.4 L754.1 163.6 M754.8 95.4 L757.2 95.1 L759.4 96.1 L761.7 95.3 L763.9 96.0 L766.1 94.9 M668.4 88.7 L669.6 86.7 L672.0 86.3 L673.9 84.9 L674.8 82.7 L677.0 81.7 L679.4 81.3 L681.8 81.0 M658.3 127.8 L656.8 129.6 L654.4 129.6 L652.8 131.4 L653.1 133.8 M731.8 153.0 L730.5 150.9 L731.2 148.6 L731.0 146.2 L729.7 144.2 L727.6 143.1 L725.2 143.2 M768.2 162.7 L766.6 164.5 L766.9 166.9 L768.5 168.6 L770.9 168.7 M766.3 155.5 L765.0 153.5 L762.6 153.1 L760.4 154.1 L758.8 155.8 L759.2 158.2 M684.0 113.4 L682.3 115.0 L681.2 117.2 L680.7 119.5 L682.2 121.4 L684.1 122.8 M702.0 134.8 L700.8 136.9 L701.4 139.2 L700.7 141.5 L701.4 143.8 M727.2 83.2 L726.8 80.9 L727.9 78.8 L728.6 76.5 L728.6 74.1 M784.9 91.2 L786.4 93.1 L786.4 95.5 L785.8 97.8 L784.4 99.7 M756.9 90.0 L755.6 88.0 L753.2 87.6 L751.1 86.6 L749.8 84.5 L749.3 82.2 L750.7 80.2 L752.6 78.7 M638.6 78.0 L640.8 76.9 L642.8 75.6 L643.3 73.3 L641.9 71.4 L640.5 69.4 M664.6 105.3 L666.2 103.6 L667.9 101.9 L669.7 100.2 L671.8 99.2 L672.6 96.9 L674.2 95.2 M665.8 82.0 L664.9 84.2 L665.2 86.6 L664.8 89.0 L664.6 91.4 L663.1 93.2 M671.5 78.6 L673.9 78.2 L675.9 76.9 L678.3 76.5 L680.4 75.4 M737.3 156.1 L735.9 154.2 L734.4 152.3 L733.9 150.0 L735.4 148.1 L737.0 146.4 M671.9 82.2 L674.2 81.6 L676.0 80.0 L676.9 77.8 L679.1 76.8 L680.5 74.9 L682.2 73.2 L682.5 70.8 M739.2 101.3 L738.5 103.6 L736.3 104.7 L733.9 105.0 L731.6 105.7 L729.3 105.5 L726.9 105.6 M670.4 79.2 L668.1 78.6 L667.0 76.5 L665.6 74.5 L663.6 73.1 L662.6 71.0 M748.6 122.1 L746.8 120.6 L744.4 120.8 L742.2 120.0 L739.8 119.5 L738.0 118.0 L736.6 116.0 L734.5 114.7 M680.7 109.5 L679.5 111.6 L678.4 113.7 L676.7 115.4 L676.4 117.8 L675.5 120.0 M694.3 140.3 L696.6 141.0 L698.8 140.0 L700.2 138.1 L700.7 135.7 M634.9 107.0 L636.6 108.7 L637.8 110.8 L637.5 113.2 L638.4 115.4 L640.2 117.1 M665.2 122.1 L663.5 123.7 L661.1 124.2 L659.2 122.8 L656.8 122.8 L654.4 123.2 L652.1 122.4 M704.4 81.8 L706.8 81.7 L709.0 80.6 L709.8 78.3 L709.2 76.0 L708.7 73.7 L709.0 71.3 L710.9 69.8 M742.2 152.6 L743.4 154.7 L745.8 155.0 L747.8 153.8 L750.0 152.8 L750.8 150.5 L752.4 148.7 M781.3 150.0 L779.3 148.8 L776.9 149.3 L774.5 149.7 L772.1 149.7 L769.8 150.2 L768.0 151.8 M781.0 159.7 L783.3 159.2 L785.5 160.3 L787.2 162.0 L789.6 162.0 L791.7 160.9 M737.9 161.4 L736.0 160.0 L735.0 157.8 L735.0 155.4 L735.1 153.0 L733.9 150.9 M782.5 111.2 L780.6 112.7 L778.2 112.5 L776.2 113.9 L774.0 114.9 M721.7 124.0 L719.3 123.9 L717.6 122.3 L716.6 120.1 L717.7 117.9 M777.0 164.8 L775.3 166.5 L772.9 166.9 L771.1 165.3 M768.7 142.0 L766.4 142.7 L764.1 142.1 L761.8 141.8 L759.9 143.3 L758.1 144.8 L756.7 146.8 M756.8 167.3 L755.2 169.1 L752.9 169.8 L751.8 171.9 M656.5 80.5 L656.1 82.9 L654.1 84.3 L651.9 85.2 L650.2 86.9 L648.1 87.9 L646.3 89.5 L645.3 91.7 M773.8 151.0 L773.3 148.6 L773.7 146.3 L774.0 143.9 M751.0 170.2 L750.5 167.9 L749.9 165.5 L747.7 164.5 L746.9 162.3 L745.3 160.4 L744.5 158.2 M649.4 101.9 L647.1 101.3 L644.9 100.2 L642.8 99.2 L640.5 98.5 L638.2 99.3 M703.1 140.0 L705.1 141.3 L705.4 143.7 L706.6 145.7 L708.9 146.4 M762.5 154.7 L762.1 152.4 L760.8 150.3 L758.8 149.0 M666.1 104.9 L667.2 107.0 L669.3 108.1 L670.3 110.3 L670.9 112.7 L672.2 114.7 L673.9 116.4 M756.3 153.4 L758.2 154.7 L759.2 156.9 L758.6 159.3 M644.2 96.2 L646.3 97.2 L648.5 98.3 L650.9 98.1 L653.2 98.3 L655.2 99.6 L656.8 101.5 L659.2 101.5 M728.5 160.3 L729.5 162.5 L731.6 163.6 L734.0 163.5 L736.1 162.4 L738.4 161.7 M654.9 111.3 L657.3 111.7 L659.6 112.1 L662.0 112.1 L664.1 113.3 M732.8 91.9 L731.6 93.9 L729.2 94.3 L726.8 94.0 L724.4 94.1 M643.3 84.0 L644.9 82.2 L645.4 79.9 L643.8 78.1 L642.4 76.1 L641.6 73.8 L642.5 71.6 L641.7 69.4 M726.0 118.5 L725.9 120.9 L727.3 122.9 L729.6 123.4 L732.0 123.5 M755.6 110.0 L758.0 109.6 L759.4 107.6 L761.7 107.1 M660.9 122.7 L660.8 120.3 L659.5 118.3 L657.8 116.5 L656.3 114.7 M748.0 77.5 L746.2 79.2 L743.9 79.5 L741.6 78.6 M688.1 118.1 L690.3 119.0 L692.6 119.8 L695.0 119.4 L697.2 120.2 M707.8 77.8 L709.4 76.1 L711.6 75.1 L712.5 72.9 M629.0 81.0 L630.1 78.8 L629.9 76.5 L631.6 74.7 L633.2 73.0 L635.6 73.1 L637.4 74.7 L639.7 75.1 M635.5 116.1 L635.1 118.4 L635.7 120.8 L635.0 123.0 L635.8 125.3 L636.6 127.6 M654.4 92.7 L655.1 90.4 L654.3 88.1 L654.8 85.7 L653.7 83.6 L652.6 81.5 M728.3 117.2 L726.1 116.0 L725.3 113.8 L723.5 112.2 L721.9 110.4 L721.6 108.0 L722.3 105.8 L722.5 103.4 M673.0 136.4 L673.4 134.1 L674.2 131.8 L675.7 129.9 L676.4 127.6 L675.0 125.6 M630.3 91.2 L628.4 89.8 L626.2 88.8 L624.0 89.8 L621.8 90.8 L619.5 91.3 L618.2 93.4 L618.9 95.7 M717.0 110.3 L717.0 112.7 L716.7 115.0 L717.6 117.3 L717.9 119.6 L718.4 122.0 L720.2 123.5 L720.4 125.9 M664.4 91.2 L666.7 90.6 L669.1 90.8 L671.4 90.0 M769.9 146.1 L772.3 146.2 L774.5 145.3 L776.8 146.0 L778.9 144.8 L781.1 143.8 L783.0 142.4 L784.2 140.3 M723.7 135.3 L723.3 132.9 L722.1 130.9 L720.2 129.3 L717.8 129.6 L715.8 128.3 L714.7 126.2 M741.1 73.6 L742.8 75.3 L745.2 75.8 L746.3 77.9 L748.2 79.4 L749.6 81.3 L751.9 81.9 M728.2 156.5 L730.3 155.3 L732.6 155.9 L734.0 157.9 L736.3 158.4 L738.7 158.9 L740.9 158.0 L743.2 158.8 M722.6 119.6 L720.4 118.6 L718.7 116.9 L718.3 114.5 L717.7 112.2 L718.1 109.8 L718.7 107.5 L718.6 105.1 M648.3 76.1 L645.9 75.7 L644.7 73.7 L644.3 71.3 M629.8 89.9 L630.1 87.5 L628.6 85.6 L627.4 83.5 M642.2 98.2 L643.5 100.2 L643.0 102.6 L641.6 104.5 M753.6 152.5 L752.9 154.8 L754.1 156.8 L756.1 158.1 L758.5 158.6 L760.5 159.8 M684.6 112.4 L682.6 113.6 L680.2 113.8 L678.0 112.7 L675.8 113.7 L673.6 114.6 L672.5 116.7 L671.5 118.9 M709.9 108.4 L712.3 108.4 L714.7 108.4 L716.8 109.6 M670.9 99.3 L669.1 100.8 L667.0 101.9 L666.1 104.1 L664.3 105.7 M628.9 98.2 L626.7 99.1 L625.3 101.0 L622.9 101.2 L620.5 100.9 L619.1 98.9 M736.9 147.4 L736.1 149.7 L736.9 152.0 L736.1 154.3 M652.4 126.9 L650.0 127.3 L647.7 127.9 L645.5 126.8 L643.1 126.8 L641.1 128.1 M665.1 113.1 L664.7 115.4 L662.7 116.8 L661.5 118.9 L659.1 119.4 L657.3 117.9 L654.9 117.7 L652.6 116.9 M656.6 91.4 L658.2 89.6 L659.5 87.6 L659.6 85.2 L660.3 82.9 M642.2 98.3 L641.1 100.4 L638.9 101.5 L636.9 102.8 L635.8 104.9 L633.4 105.4 L631.4 106.7 M628.4 104.5 L630.6 103.5 L632.9 104.0 L635.0 105.3 L636.7 106.9 L638.1 108.9 L638.0 111.3 M733.4 153.3 L735.4 151.9 L737.7 151.1 L739.9 150.2 L741.6 148.5 L743.7 147.3 L744.4 145.0 L744.9 142.7 M752.0 160.7 L752.3 163.1 L752.8 165.5 L752.8 167.9 L753.2 170.2 M783.3 77.5 L784.7 75.5 L784.8 73.1 L784.3 70.8 L785.3 68.6 M684.9 115.1 L684.7 117.5 L685.0 119.9 L684.2 122.1 L684.9 124.4 L683.6 126.4 L682.9 128.7 M634.0 106.6 L636.2 105.7 L638.5 106.6 L640.5 108.0 L641.9 109.9 L643.1 112.0 L645.3 112.8 M674.1 122.2 L675.9 123.8 L676.0 126.2 L676.2 128.6 L677.7 130.4 L677.5 132.8 L679.0 134.7 L679.4 137.0 M759.9 170.9 L757.8 172.1 L755.7 173.2 L754.7 175.4 L752.7 176.7 L751.0 178.4 L748.7 178.9 M668.3 119.2 L670.6 119.7 L673.0 120.2 L674.7 121.8 L675.4 124.1 L676.6 126.2 M726.2 83.3 L728.5 83.8 L730.5 82.5 L732.9 82.5 L734.7 84.1 M752.3 90.1 L754.0 88.4 L756.4 88.5 L758.7 89.2 L761.0 88.9 L762.6 87.1 L762.8 84.7 L761.8 82.5 M771.8 170.4 L770.6 168.3 L771.3 166.1 L770.4 163.9 L771.1 161.6 M714.0 151.3 L713.9 153.7 L713.8 156.1 L712.6 158.2 L711.7 160.4 L709.5 161.5 M705.8 139.3 L707.7 140.8 L708.9 142.9 L710.1 145.0 M673.1 130.2 L670.8 129.5 L668.6 130.5 L666.3 130.9 L663.9 130.8 L662.2 132.5 L660.2 133.9 M707.8 132.6 L709.8 133.9 L711.4 135.7 L713.5 136.9 L714.4 139.2 M684.3 131.3 L683.2 129.2 L681.4 127.6 L679.2 126.7 L676.8 126.7 L675.2 128.5 L674.4 130.7 L674.1 133.1 M705.1 113.9 L704.9 116.3 L704.8 118.7 L706.2 120.7 L708.4 121.6 L710.2 123.2 L712.6 123.5 L714.0 125.4 M689.7 141.1 L687.6 142.3 L686.0 144.2 L686.5 146.5 L688.1 148.3 L688.1 150.7 L687.6 153.0 M772.7 148.2 L772.9 145.8 L771.2 144.1 L770.0 142.0 L769.3 139.8 L767.4 138.2 L766.0 136.3 L766.2 133.9 M693.3 85.2 L691.0 85.8 L688.7 85.1 L686.5 84.2 M666.8 110.0 L668.7 108.6 L670.7 107.4 L673.0 106.5 L675.2 107.3 L677.5 108.1 L679.7 109.1 M758.9 168.2 L758.1 165.9 L757.1 163.8 L754.8 163.1 L752.4 163.0 L750.1 162.4 L748.8 160.4 M659.3 91.5 L658.8 93.8 L657.5 95.9 L655.1 96.3 M701.6 106.8 L700.1 104.9 L697.8 104.6 L695.8 103.2 L694.4 101.2 L694.6 98.8 L695.7 96.7 M740.1 129.6 L740.7 127.3 L739.3 125.3 L737.0 124.9 L735.4 123.0 L734.5 120.8 M779.1 162.5 L776.9 161.4 L775.7 159.4 L774.0 157.7 L772.7 155.6 L772.0 153.3 L771.0 151.2 M778.4 169.5 L778.1 171.9 L777.3 174.2 L775.9 176.1 L773.7 177.0 L771.3 177.6 L769.2 176.5 L767.6 174.7 M627.3 91.4 L626.9 89.1 L625.5 87.1 L623.7 85.5 L621.6 84.3 L620.4 82.3 M662.9 128.4 L662.8 130.8 L664.1 132.8 L663.7 135.2 M748.9 169.4 L751.1 168.3 L753.4 168.7 L755.7 169.5 L758.1 169.2 L760.1 170.5 M756.0 157.2 L756.3 159.6 L756.4 162.0 L755.3 164.1 L755.4 166.5 L754.4 168.7 L752.2 169.6 M755.9 168.0 L754.0 169.4 L752.7 171.4 L750.5 172.4 L748.8 174.0 M764.1 103.2 L764.0 105.6 L763.2 107.8 L761.4 109.5 L760.9 111.8 L760.0 114.0 L759.8 116.4 M785.8 179.6 L783.4 179.5 L781.8 177.8 L779.6 176.8 L777.3 177.6 L775.1 178.5 L772.8 179.1 M723.8 88.9 L725.6 90.5 L728.0 90.3 L729.6 88.5 L731.3 86.8 L733.7 86.6 M772.8 80.7 L775.1 80.5 L776.7 78.7 L777.7 76.5 L777.5 74.1 L775.8 72.4 L775.6 70.0 M707.2 95.3 L709.0 96.8 L711.4 97.3 L713.3 95.8 L714.4 93.7 L714.9 91.4 M760.9 78.6 L763.2 77.9 L765.6 78.3 L767.0 80.3 L767.7 82.6 L769.1 84.5 L770.2 86.6 M666.6 88.1 L665.0 89.9 L662.7 90.6 L660.6 89.6 L659.6 87.4 L658.5 85.3 L659.1 83.0 M754.7 92.2 L757.0 92.8 L758.4 94.7 L760.7 95.5 M697.5 84.8 L695.7 83.2 L693.6 82.1 L692.3 80.1 M702.4 150.3 L700.5 151.7 L699.6 153.9 L699.0 156.2 L697.0 157.5 M664.9 75.9 L665.6 73.6 L664.8 71.3 L664.0 69.1 L662.6 67.2 L662.7 64.8 L661.3 62.9 L661.8 60.5 M671.3 104.6 L673.6 103.9 L675.4 102.3 L676.3 100.1 L676.1 97.7 M688.2 124.0 L690.0 125.7 L692.2 126.6 L692.9 128.9 L695.1 129.8 M773.1 99.7 L774.5 97.8 L774.9 95.4 L773.9 93.2 L773.3 90.9 M743.6 166.7 L743.8 169.1 L743.1 171.4 L741.3 172.9 L739.2 174.2 M657.7 80.9 L655.3 81.3 L654.0 83.3 L651.8 84.3 L650.0 85.8 L647.6 86.0 L645.5 84.8 L643.5 83.5 M668.1 95.7 L670.1 97.1 L671.9 98.7 L672.3 101.0 L673.4 103.2 L672.6 105.5 M773.2 168.9 L772.3 166.6 L770.7 164.9 L768.3 164.6 L766.3 163.3 L764.1 162.3 L761.9 163.2 M652.1 111.3 L651.1 109.1 L649.0 108.0 L647.3 106.3 L644.9 105.8 L643.0 107.2 L640.8 108.2 L638.5 108.9 M705.1 134.5 L707.5 134.6 L709.3 136.1 L711.0 137.8 L713.3 138.5 L715.6 138.0 M779.0 75.1 L777.3 73.4 L774.9 73.4 L773.3 71.7 L770.9 71.7 L768.5 72.2 L766.3 73.2 M761.2 161.0 L763.3 159.9 L765.7 160.2 L767.5 161.7 L769.9 161.5 L772.3 161.4 L774.0 163.1 L774.0 165.5 M665.3 124.8 L663.6 126.6 L663.6 129.0 L663.9 131.3 M782.5 168.6 L782.1 166.2 L783.3 164.1 L785.5 163.3 L786.4 161.1 L787.8 159.1 L788.3 156.8 M735.1 106.5 L732.8 105.8 L730.6 104.9 L728.3 104.3 M730.1 87.6 L730.6 85.3 L731.5 83.1 L733.7 82.1 L735.8 80.9 L737.9 79.8 L740.2 80.2 L741.7 82.2 M718.7 106.6 L718.3 109.0 L717.1 111.1 L717.1 113.5 L717.6 115.8 L717.9 118.2 L718.7 120.5 L717.9 122.7 M674.2 131.7 L676.6 131.5 L678.5 130.0 L680.5 128.7 L682.8 129.3 L685.2 129.5 M775.1 92.8 L772.8 92.0 L770.4 92.1 L768.8 90.3 L766.7 89.2 L765.3 87.2 M650.6 81.0 L649.6 83.2 L649.1 85.6 L648.9 88.0 L647.7 90.0 L648.1 92.4 M758.3 136.6 L757.5 138.9 L756.1 140.9 L754.2 142.3 L752.4 143.9 L752.2 146.3 L752.4 148.7 M786.2 91.2 L788.2 89.9 L789.9 88.2 L791.4 86.3 L792.8 84.3 L794.8 83.0 M672.4 121.0 L670.9 119.1 L668.5 119.2 L666.3 118.2 L665.7 115.8 L664.6 113.7 L662.8 112.1 L661.2 110.4 M782.9 182.7 L785.2 182.0 L787.4 183.0 L789.7 183.2 M712.0 111.3 L709.7 111.0 L707.5 109.8 L705.2 109.2 L702.8 109.1 L700.5 108.6 L698.1 108.8 M778.9 156.2 L776.9 157.5 L774.6 158.2 L772.5 157.1 M649.9 96.0 L647.5 96.4 L645.1 96.3 L643.7 94.4 L641.8 93.0 L640.0 91.4 L639.3 89.1 M652.6 112.0 L653.7 109.9 L653.3 107.6 L654.5 105.5 M785.8 182.3 L784.3 180.5 L784.0 178.1 L782.5 176.2 L782.7 173.8 L782.4 171.4 L780.6 169.9 M716.7 85.9 L714.4 85.2 L712.4 86.4 L710.0 86.9 M629.6 94.4 L628.5 92.3 L629.1 89.9 L629.7 87.6 L628.8 85.4 L626.9 83.9 L625.3 82.1 L623.0 81.7 M709.1 135.6 L711.5 135.7 L713.9 135.9 L715.8 137.4" fill="none" stroke="#b2b2b2" stroke-width="1.0" stroke-linecap="round" stroke-linejoin="round"/>
<circle cx="741.1" cy="116.4" r="1.5" fill="rgb(65,65,65)"/>
<circle cx="635.0" cy="96.4" r="1.0" fill="rgb(35,35,35)"/>
<circle cx="664.3" cy="120.9" r="1.3" fill="rgb(50,50,50)"/>
<circle cx="639.0" cy="93.8" r="1.9" fill="rgb(35,35,35)"/>
<circle cx="687.5" cy="122.5" r="1.9" fill="rgb(35,35,35)"/>
<circle cx="680.8" cy="126.5" r="1.6" fill="rgb(65,65,65)"/>
<circle cx="639.9" cy="106.1" r="1.5" fill="rgb(50,50,50)"/>
<circle cx="663.9" cy="118.2" r="1.6" fill="rgb(50,50,50)"/>
<circle cx="720.3" cy="118.2" r="1.0" fill="rgb(50,50,50)"/>
<circle cx="746.9" cy="156.4" r="1.4" fill="rgb(35,35,35)"/>
<circle cx="683.6" cy="134.5" r="1.1" fill="rgb(65,65,65)"/>
<circle cx="741.7" cy="83.6" r="1.2" fill="rgb(80,80,80)"/>
<circle cx="764.8" cy="89.1" r="1.3" fill="rgb(35,35,35)"/>
<circle cx="754.8" cy="158.0" r="0.9" fill="rgb(80,80,80)"/>
<circle cx="640.7" cy="108.7" r="1.8" fill="rgb(65,65,65)"/>
<circle cx="744.2" cy="160.7" r="1.3" fill="rgb(35,35,35)"/>
<circle cx="714.6" cy="150.4" r="1.5" fill="rgb(50,50,50)"/>
<circle cx="733.8" cy="143.7" r="1.0" fill="rgb(35,35,35)"/>
<circle cx="749.0" cy="153.6" r="1.8" fill="rgb(35,35,35)"/>
<circle cx="783.2" cy="156.8" r="1.1" fill="rgb(65,65,65)"/>
<circle cx="773.5" cy="165.2" r="1.3" fill="rgb(35,35,35)"/>
<circle cx="762.5" cy="168.8" r="1.7" fill="rgb(80,80,80)"/>
<circle cx="665.4" cy="80.1" r="1.0" fill="rgb(80,80,80)"/>
<circle cx="703.9" cy="132.3" r="0.9" fill="rgb(50,50,50)"/>
<circle cx="644.0" cy="125.2" r="1.6" fill="rgb(50,50,50)"/>
<circle cx="761.3" cy="122.9" r="0.9" fill="rgb(65,65,65)"/>
<circle cx="674.2" cy="86.4" r="1.1" fill="rgb(35,35,35)"/>
<circle cx="697.2" cy="143.0" r="1.1" fill="rgb(65,65,65)"/>
<circle cx="784.2" cy="142.3" r="1.9" fill="rgb(80,80,80)"/>
<circle cx="677.1" cy="117.1" r="1.5" fill="rgb(65,65,65)"/>
<circle cx="776.9" cy="153.3" r="1.0" fill="rgb(50,50,50)"/>
<circle cx="648.4" cy="118.2" r="1.0" fill="rgb(50,50,50)"/>
<circle cx="682.7" cy="101.2" r="1.7" fill="rgb(65,65,65)"/>
<circle cx="666.0" cy="79.9" r="1.8" fill="rgb(80,80,80)"/>
<circle cx="650.4" cy="109.7" r="1.0" fill="rgb(35,35,35)"/>
<circle cx="661.8" cy="89.9" r="1.0" fill="rgb(80,80,80)"/>
<circle cx="763.9" cy="169.8" r="1.0" fill="rgb(80,80,80)"/>
<circle cx="636.5" cy="79.6" r="1.0" fill="rgb(65,65,65)"/>
<circle cx="734.6" cy="142.8" r="1.0" fill="rgb(80,80,80)"/>
<circle cx="677.4" cy="129.6" r="1.9" fill="rgb(50,50,50)"/>
<circle cx="673.5" cy="115.1" r="1.1" fill="rgb(50,50,50)"/>
<circle cx="745.1" cy="158.0" r="1.6" fill="rgb(50,50,50)"/>
<circle cx="692.5" cy="138.1" r="1.3" fill="rgb(80,80,80)"/>
<circle cx="666.0" cy="84.5" r="1.6" fill="rgb(65,65,65)"/>
<circle cx="661.7" cy="129.3" r="1.6" fill="rgb(35,35,35)"/>
<circle cx="639.9" cy="118.8" r="1.3" fill="rgb(35,35,35)"/>
<circle cx="632.5" cy="77.9" r="1.4" fill="rgb(50,50,50)"/>
<circle cx="644.4" cy="89.5" r="1.5" fill="rgb(50,50,50)"/>
<circle cx="644.8" cy="118.8" r="1.6" fill="rgb(65,65,65)"/>
<circle cx="734.6" cy="104.2" r="0.9" fill="rgb(80,80,80)"/>
<circle cx="704.2" cy="81.9" r="1.5" fill="rgb(50,50,50)"/>
<circle cx="627.0" cy="115.0" r="1.4" fill="rgb(50,50,50)"/>
<circle cx="729.6" cy="146.8" r="1.9" fill="rgb(80,80,80)"/>
<circle cx="737.5" cy="128.1" r="1.3" fill="rgb(35,35,35)"/>
<circle cx="710.7" cy="111.2" r="1.1" fill="rgb(35,35,35)"/>
<circle cx="758.0" cy="162.5" r="1.5" fill="rgb(65,65,65)"/>
<circle cx="687.9" cy="116.4" r="1.2" fill="rgb(80,80,80)"/>
<circle cx="785.2" cy="78.4" r="1.2" fill="rgb(50,50,50)"/>
<circle cx="669.2" cy="134.5" r="1.3" fill="rgb(65,65,65)"/>
<circle cx="718.1" cy="144.9" r="1.9" fill="rgb(50,50,50)"/>
<circle cx="750.7" cy="150.9" r="1.3" fill="rgb(35,35,35)"/>
<circle cx="681.8" cy="140.7" r="1.2" fill="rgb(80,80,80)"/>
<circle cx="739.3" cy="155.6" r="1.4" fill="rgb(80,80,80)"/>
<circle cx="770.2" cy="172.6" r="1.1" fill="rgb(65,65,65)"/>
<circle cx="674.3" cy="116.4" r="1.6" fill="rgb(80,80,80)"/>
<circle cx="774.7" cy="176.2" r="1.8" fill="rgb(65,65,65)"/>
<circle cx="669.7" cy="104.6" r="1.5" fill="rgb(50,50,50)"/>
<circle cx="663.3" cy="75.3" r="1.1" fill="rgb(80,80,80)"/>
<circle cx="781.4" cy="146.9" r="1.6" fill="rgb(65,65,65)"/>
<circle cx="625.6" cy="106.2" r="1.5" fill="rgb(35,35,35)"/>
<circle cx="746.6" cy="152.8" r="1.5" fill="rgb(80,80,80)"/>
<circle cx="650.3" cy="75.1" r="1.3" fill="rgb(35,35,35)"/>
<circle cx="757.1" cy="131.7" r="1.6" fill="rgb(65,65,65)"/>
<circle cx="669.3" cy="104.0" r="1.6" fill="rgb(35,35,35)"/>
<circle cx="639.4" cy="76.2" r="1.4" fill="rgb(35,35,35)"/>
<circle cx="771.3" cy="120.8" r="1.0" fill="rgb(35,35,35)"/>
<circle cx="778.4" cy="150.1" r="0.9" fill="rgb(65,65,65)"/>
<circle cx="677.8" cy="125.3" r="1.2" fill="rgb(65,65,65)"/>
<circle cx="786.6" cy="109.5" r="1.1" fill="rgb(35,35,35)"/>
<circle cx="729.2" cy="154.8" r="1.8" fill="rgb(80,80,80)"/>
<circle cx="784.1" cy="76.9" r="0.9" fill="rgb(35,35,35)"/>
<circle cx="646.9" cy="125.6" r="1.1" fill="rgb(50,50,50)"/>
<circle cx="712.7" cy="150.9" r="1.4" fill="rgb(35,35,35)"/>
<circle cx="661.2" cy="81.7" r="1.2" fill="rgb(35,35,35)"/>
<circle cx="636.0" cy="78.1" r="1.7" fill="rgb(80,80,80)"/>
<circle cx="670.7" cy="113.6" r="1.3" fill="rgb(65,65,65)"/>
<circle cx="676.5" cy="124.5" r="1.3" fill="rgb(50,50,50)"/>
<circle cx="687.5" cy="123.3" r="1.8" fill="rgb(50,50,50)"/>
<circle cx="785.9" cy="174.6" r="1.0" fill="rgb(35,35,35)"/>
<circle cx="690.8" cy="141.7" r="1.4" fill="rgb(80,80,80)"/>
<circle cx="688.8" cy="137.7" r="1.0" fill="rgb(65,65,65)"/>
<circle cx="754.4" cy="154.7" r="1.2" fill="rgb(65,65,65)"/>
<circle cx="684.0" cy="98.1" r="1.1" fill="rgb(65,65,65)"/>
<circle cx="760.1" cy="173.6" r="1.3" fill="rgb(35,35,35)"/>
<circle cx="732.5" cy="106.7" r="1.6" fill="rgb(80,80,80)"/>
<circle cx="697.9" cy="131.8" r="1.7" fill="rgb(50,50,50)"/>
<circle cx="684.5" cy="137.0" r="1.5" fill="rgb(50,50,50)"/>
<circle cx="624.9" cy="104.8" r="1.2" fill="rgb(50,50,50)"/>
<circle cx="666.4" cy="105.5" r="1.8" fill="rgb(80,80,80)"/>
<circle cx="657.6" cy="125.0" r="1.5" fill="rgb(65,65,65)"/>
<circle cx="672.8" cy="123.1" r="1.3" fill="rgb(65,65,65)"/>
<circle cx="710.3" cy="134.0" r="1.0" fill="rgb(35,35,35)"/>
<circle cx="653.5" cy="80.8" r="1.4" fill="rgb(50,50,50)"/>
<circle cx="758.9" cy="155.5" r="1.3" fill="rgb(50,50,50)"/>
<circle cx="750.0" cy="87.4" r="1.5" fill="rgb(35,35,35)"/>
<circle cx="676.9" cy="96.3" r="1.4" fill="rgb(65,65,65)"/>
<circle cx="638.9" cy="120.1" r="1.5" fill="rgb(65,65,65)"/>
<circle cx="707.9" cy="124.6" r="1.1" fill="rgb(65,65,65)"/>
<circle cx="686.6" cy="126.6" r="1.2" fill="rgb(65,65,65)"/>
<circle cx="646.2" cy="98.4" r="1.6" fill="rgb(80,80,80)"/>
<circle cx="680.4" cy="129.1" r="1.6" fill="rgb(35,35,35)"/>
<circle cx="630.5" cy="99.9" r="1.2" fill="rgb(80,80,80)"/>
<circle cx="734.5" cy="109.2" r="1.0" fill="rgb(50,50,50)"/>
<circle cx="774.0" cy="98.3" r="1.1" fill="rgb(35,35,35)"/>
<circle cx="639.7" cy="79.0" r="1.6" fill="rgb(65,65,65)"/>
<circle cx="775.0" cy="89.2" r="1.2" fill="rgb(80,80,80)"/>
<circle cx="784.2" cy="121.1" r="1.1" fill="rgb(80,80,80)"/>
<circle cx="737.7" cy="97.2" r="1.3" fill="rgb(50,50,50)"/>
<circle cx="639.2" cy="90.0" r="1.5" fill="rgb(50,50,50)"/>
<circle cx="641.2" cy="73.0" r="1.6" fill="rgb(50,50,50)"/>
<circle cx="632.9" cy="113.9" r="1.4" fill="rgb(80,80,80)"/>
<circle cx="678.4" cy="117.7" r="1.7" fill="rgb(65,65,65)"/>
<circle cx="643.2" cy="92.7" r="0.9" fill="rgb(35,35,35)"/>
<circle cx="702.9" cy="91.2" r="1.0" fill="rgb(50,50,50)"/>
<circle cx="705.5" cy="138.9" r="1.2" fill="rgb(35,35,35)"/>
<circle cx="631.6" cy="104.4" r="1.2" fill="rgb(50,50,50)"/>
<circle cx="772.5" cy="162.4" r="1.8" fill="rgb(50,50,50)"/>
<circle cx="649.8" cy="105.4" r="1.5" fill="rgb(80,80,80)"/>
<circle cx="636.7" cy="114.4" r="0.9" fill="rgb(35,35,35)"/>
<circle cx="725.3" cy="158.1" r="1.2" fill="rgb(65,65,65)"/>
<circle cx="691.8" cy="123.0" r="1.0" fill="rgb(50,50,50)"/>
<circle cx="736.3" cy="160.2" r="1.9" fill="rgb(35,35,35)"/>
<circle cx="747.0" cy="151.3" r="1.8" fill="rgb(50,50,50)"/>
<circle cx="633.0" cy="117.9" r="1.0" fill="rgb(80,80,80)"/>
<circle cx="741.5" cy="115.9" r="1.6" fill="rgb(80,80,80)"/>
<circle cx="759.0" cy="169.5" r="1.6" fill="rgb(65,65,65)"/>
<circle cx="721.3" cy="153.6" r="1.0" fill="rgb(35,35,35)"/>
<circle cx="753.5" cy="154.6" r="1.7" fill="rgb(80,80,80)"/>
<circle cx="659.5" cy="116.4" r="1.5" fill="rgb(80,80,80)"/>
<circle cx="672.3" cy="83.6" r="1.3" fill="rgb(80,80,80)"/>
<circle cx="712.3" cy="102.6" r="1.3" fill="rgb(35,35,35)"/>
<circle cx="649.3" cy="93.4" r="1.2" fill="rgb(80,80,80)"/>
<circle cx="782.2" cy="121.0" r="1.0" fill="rgb(50,50,50)"/>
<circle cx="744.2" cy="165.7" r="1.0" fill="rgb(80,80,80)"/>
<circle cx="708.4" cy="113.6" r="1.3" fill="rgb(65,65,65)"/>
<circle cx="732.3" cy="150.7" r="1.8" fill="rgb(80,80,80)"/>
<circle cx="675.4" cy="136.0" r="1.6" fill="rgb(50,50,50)"/>
<circle cx="746.3" cy="151.9" r="1.5" fill="rgb(65,65,65)"/>
<circle cx="634.8" cy="110.8" r="1.6" fill="rgb(50,50,50)"/>
<circle cx="702.0" cy="149.3" r="1.3" fill="rgb(80,80,80)"/>
<circle cx="753.8" cy="131.1" r="1.4" fill="rgb(80,80,80)"/>
<circle cx="631.9" cy="107.2" r="1.6" fill="rgb(80,80,80)"/>
<circle cx="762.7" cy="123.6" r="1.3" fill="rgb(80,80,80)"/>
<circle cx="774.0" cy="138.1" r="1.2" fill="rgb(35,35,35)"/>
<circle cx="668.0" cy="102.8" r="1.7" fill="rgb(35,35,35)"/>
<circle cx="642.9" cy="110.6" r="1.9" fill="rgb(50,50,50)"/>
<circle cx="727.9" cy="158.1" r="1.3" fill="rgb(80,80,80)"/>
<circle cx="777.7" cy="164.3" r="1.3" fill="rgb(65,65,65)"/>
<circle cx="671.7" cy="99.1" r="1.0" fill="rgb(80,80,80)"/>
<circle cx="663.1" cy="126.1" r="1.5" fill="rgb(50,50,50)"/>
<circle cx="770.9" cy="164.4" r="1.8" fill="rgb(80,80,80)"/>
<circle cx="739.2" cy="148.3" r="1.6" fill="rgb(65,65,65)"/>
<circle cx="675.1" cy="117.2" r="1.3" fill="rgb(35,35,35)"/>
<circle cx="677.7" cy="73.2" r="1.3" fill="rgb(50,50,50)"/>
<circle cx="720.8" cy="146.2" r="0.9" fill="rgb(35,35,35)"/>
<circle cx="759.3" cy="86.4" r="1.9" fill="rgb(65,65,65)"/>
<circle cx="661.1" cy="94.1" r="1.0" fill="rgb(65,65,65)"/>
<circle cx="786.7" cy="172.0" r="1.6" fill="rgb(65,65,65)"/>
<circle cx="768.0" cy="149.0" r="1.0" fill="rgb(50,50,50)"/>
<circle cx="753.3" cy="164.4" r="1.1" fill="rgb(65,65,65)"/>
<circle cx="712.2" cy="141.6" r="1.5" fill="rgb(50,50,50)"/>
<circle cx="676.1" cy="116.5" r="1.6" fill="rgb(50,50,50)"/>
<circle cx="783.5" cy="177.6" r="1.4" fill="rgb(65,65,65)"/>
<circle cx="658.8" cy="103.9" r="1.6" fill="rgb(50,50,50)"/>
<circle cx="761.6" cy="89.3" r="1.6" fill="rgb(50,50,50)"/>
<circle cx="773.4" cy="178.7" r="1.5" fill="rgb(65,65,65)"/>
<circle cx="645.3" cy="97.4" r="1.7" fill="rgb(80,80,80)"/>
</g>
<polyline points="624.8,118.1 644,125.7 672.3,137.7 711.5,155.2 737.7,168.2 787.4,185.7" fill="none" stroke="#2e2e2e" stroke-width="1.5"/>
<polyline points="624.8,120 644,127.6 672.3,139.6 711.5,157.1 737.7,170.1 787.4,187.6" fill="none" stroke="#cfcfcf" stroke-width="0.8" opacity="0.7"/>
<line x1="698.4" y1="72.8" x2="787.4" y2="109.4" stroke="#4a4a4a" stroke-width="1"/>
<g filter="url(#soft)" fill="#555"><circle cx="780" cy="75" r="3"/><circle cx="784.5" cy="77.5" r="2.6"/><circle cx="777" cy="78" r="1.8"/><circle cx="786" cy="73.5" r="1.8"/></g>
<line x1="699" y1="74.5" x2="787.4" y2="111" stroke="#cccccc" stroke-width="0.8"/>
</g>
<text x="758.4" y="186.4" font-size="5.6" fill="#f4f4f4" textLength="19.5" lengthAdjust="spacingAndGlyphs">100 nm</text>
<rect x="759.5" y="187.8" width="18.5" height="1.3" fill="#fff"/>
<text x="667.6" y="213.0" font-size="12.5" textLength="69.0" lengthAdjust="spacingAndGlyphs">CNTs@CNT</text>
<polygon points="471.0,198.0 411.6,249.1 409.3,246.4 406.2,257.8 417.9,256.4 415.7,253.8 475.0,202.8" fill="#4f82c4" stroke="#3c6aa6" stroke-width="0.8"/>
<text x="444.2" y="244.4" font-size="12.6" textLength="6.8" lengthAdjust="spacingAndGlyphs">S</text>
<rect x="331.8" y="276.2" width="4.5" height="66.3" fill="#c48a44"/>
<rect x="410.2" y="276.2" width="4.5" height="66.3" fill="#c48a44"/>
<rect x="336" y="276.2" width="74.4" height="66.3" fill="#2c8a2c"/>
<rect x="336" y="276.2" width="5.9" height="60.3" fill="#56cc56"/>
<rect x="404.5" y="276.2" width="5.9" height="60.3" fill="#56cc56"/>
<rect x="341.9" y="276.2" width="62.6" height="10" fill="#3aa83a"/>
<clipPath id="c4in"><rect x="341.9" y="276.2" width="62.6" height="60.3"/></clipPath>
<g clip-path="url(#c4in)">
<path d="M 345.0 292.0 C 355.0 286.0 368.0 286.0 378.0 290.0" fill="none" stroke="#1a5a1a" stroke-width="2.8" stroke-linecap="round"/><path d="M 345.0 292.0 C 355.0 286.0 368.0 286.0 378.0 290.0" fill="none" stroke="#44b844" stroke-width="1.8" stroke-linecap="round"/><path d="M 345.0 292.0 C 355.0 286.0 368.0 286.0 378.0 290.0" fill="none" stroke="#8ae68a" stroke-width="0.6" stroke-linecap="round" opacity="0.8"/>
<path d="M 350.0 300.0 C 358.0 306.0 366.0 304.0 374.0 300.0 C 384.0 296.0 392.0 292.0 402.0 288.0" fill="none" stroke="#1a5a1a" stroke-width="2.8" stroke-linecap="round"/><path d="M 350.0 300.0 C 358.0 306.0 366.0 304.0 374.0 300.0 C 384.0 296.0 392.0 292.0 402.0 288.0" fill="none" stroke="#44b844" stroke-width="1.8" stroke-linecap="round"/><path d="M 350.0 300.0 C 358.0 306.0 366.0 304.0 374.0 300.0 C 384.0 296.0 392.0 292.0 402.0 288.0" fill="none" stroke="#8ae68a" stroke-width="0.6" stroke-linecap="round" opacity="0.8"/>
<path d="M 360.0 312.0 C 366.0 306.0 376.0 304.0 386.0 306.0" fill="none" stroke="#1a5a1a" stroke-width="2.8" stroke-linecap="round"/><path d="M 360.0 312.0 C 366.0 306.0 376.0 304.0 386.0 306.0" fill="none" stroke="#44b844" stroke-width="1.8" stroke-linecap="round"/><path d="M 360.0 312.0 C 366.0 306.0 376.0 304.0 386.0 306.0" fill="none" stroke="#8ae68a" stroke-width="0.6" stroke-linecap="round" opacity="0.8"/>
<path d="M 350.0 324.0 C 360.0 326.0 372.0 322.0 384.0 318.0" fill="none" stroke="#1a5a1a" stroke-width="2.8" stroke-linecap="round"/><path d="M 350.0 324.0 C 360.0 326.0 372.0 322.0 384.0 318.0" fill="none" stroke="#44b844" stroke-width="1.8" stroke-linecap="round"/><path d="M 350.0 324.0 C 360.0 326.0 372.0 322.0 384.0 318.0" fill="none" stroke="#8ae68a" stroke-width="0.6" stroke-linecap="round" opacity="0.8"/>
<circle cx="352.1" cy="297.4" r="8.5" fill="url(#sul)"/>
<circle cx="369.3" cy="299.9" r="7.0" fill="url(#sul)"/>
<circle cx="392.7" cy="300.8" r="9.3" fill="url(#sul)"/>
<circle cx="351.2" cy="313.5" r="8.5" fill="url(#sul)"/>
<circle cx="380.8" cy="316.0" r="8.8" fill="url(#sul)"/>
<circle cx="365.6" cy="321.9" r="7.6" fill="url(#sul)"/>
<circle cx="396.1" cy="325.3" r="8.8" fill="url(#sul)"/>
<circle cx="352.9" cy="332.1" r="8.1" fill="url(#sul)"/>
<circle cx="377.5" cy="333.8" r="8.5" fill="url(#sul)"/>
<path d="M 378.0 326.0 C 388.0 324.0 398.0 322.0 404.0 318.0" fill="none" stroke="#1a5a1a" stroke-width="3.2" stroke-linecap="round"/><path d="M 378.0 326.0 C 388.0 324.0 398.0 322.0 404.0 318.0" fill="none" stroke="#44b844" stroke-width="2.2" stroke-linecap="round"/><path d="M 378.0 326.0 C 388.0 324.0 398.0 322.0 404.0 318.0" fill="none" stroke="#8ae68a" stroke-width="0.8" stroke-linecap="round" opacity="0.8"/>
<path d="M 360.0 336.0 C 362.0 328.0 366.0 322.0 372.0 316.0" fill="none" stroke="#1a5a1a" stroke-width="3.2" stroke-linecap="round"/><path d="M 360.0 336.0 C 362.0 328.0 366.0 322.0 372.0 316.0" fill="none" stroke="#44b844" stroke-width="2.2" stroke-linecap="round"/><path d="M 360.0 336.0 C 362.0 328.0 366.0 322.0 372.0 316.0" fill="none" stroke="#8ae68a" stroke-width="0.8" stroke-linecap="round" opacity="0.8"/>
<path d="M 384.0 338.0 C 388.0 332.0 396.0 330.0 404.0 326.0" fill="none" stroke="#1a5a1a" stroke-width="3.2" stroke-linecap="round"/><path d="M 384.0 338.0 C 388.0 332.0 396.0 330.0 404.0 326.0" fill="none" stroke="#44b844" stroke-width="2.2" stroke-linecap="round"/><path d="M 384.0 338.0 C 388.0 332.0 396.0 330.0 404.0 326.0" fill="none" stroke="#8ae68a" stroke-width="0.8" stroke-linecap="round" opacity="0.8"/>
<path d="M 376.0 300.0 C 378.0 308.0 382.0 312.0 388.0 316.0" fill="none" stroke="#1a5a1a" stroke-width="3.2" stroke-linecap="round"/><path d="M 376.0 300.0 C 378.0 308.0 382.0 312.0 388.0 316.0" fill="none" stroke="#44b844" stroke-width="2.2" stroke-linecap="round"/><path d="M 376.0 300.0 C 378.0 308.0 382.0 312.0 388.0 316.0" fill="none" stroke="#8ae68a" stroke-width="0.8" stroke-linecap="round" opacity="0.8"/>
</g>
<path d="M336 335 Q373 339 410.4 335 V343 Q373 350 336 343Z" fill="#4cc44c"/>
<path d="M341.9 335 Q373 338.5 404.5 335" fill="none" stroke="#7ae07a" stroke-width="0.9"/>
<path d="M331.8 342.5Q373.2 349.5 414.7 342.5V372.2A41.4 7.0 0 0 1 331.8 372.2Z" fill="url(#bOut3)"/>
<path d="M 355.5 261.5 C 360.0 265.0 366.0 268.0 372.0 272.0 C 378.0 276.0 384.0 280.0 390.0 286.0 C 393.0 289.0 396.0 292.0 398.0 296.0" fill="none" stroke="#1a5a1a" stroke-width="3.5" stroke-linecap="round"/><path d="M 355.5 261.5 C 360.0 265.0 366.0 268.0 372.0 272.0 C 378.0 276.0 384.0 280.0 390.0 286.0 C 393.0 289.0 396.0 292.0 398.0 296.0" fill="none" stroke="#44b844" stroke-width="2.5" stroke-linecap="round"/><path d="M 355.5 261.5 C 360.0 265.0 366.0 268.0 372.0 272.0 C 378.0 276.0 384.0 280.0 390.0 286.0 C 393.0 289.0 396.0 292.0 398.0 296.0" fill="none" stroke="#8ae68a" stroke-width="0.9" stroke-linecap="round" opacity="0.8"/>
<path d="M 369.5 290.0 C 369.0 284.0 368.5 278.0 368.5 272.0 C 368.5 266.0 369.0 261.0 372.0 259.0 C 375.0 258.0 377.0 260.0 376.5 263.0 C 376.0 266.0 374.0 267.5 372.5 266.5" fill="none" stroke="#1a5a1a" stroke-width="3.5" stroke-linecap="round"/><path d="M 369.5 290.0 C 369.0 284.0 368.5 278.0 368.5 272.0 C 368.5 266.0 369.0 261.0 372.0 259.0 C 375.0 258.0 377.0 260.0 376.5 263.0 C 376.0 266.0 374.0 267.5 372.5 266.5" fill="none" stroke="#44b844" stroke-width="2.5" stroke-linecap="round"/><path d="M 369.5 290.0 C 369.0 284.0 368.5 278.0 368.5 272.0 C 368.5 266.0 369.0 261.0 372.0 259.0 C 375.0 258.0 377.0 260.0 376.5 263.0 C 376.0 266.0 374.0 267.5 372.5 266.5" fill="none" stroke="#8ae68a" stroke-width="0.9" stroke-linecap="round" opacity="0.8"/>
<path d="M 380.0 292.0 C 382.0 288.0 384.0 284.0 385.5 279.0 C 386.5 274.0 385.5 268.0 387.0 265.0 C 389.0 262.5 392.5 262.5 393.0 266.0 C 393.5 270.0 392.0 275.0 389.5 279.0 C 388.0 282.0 386.0 284.0 384.0 287.0" fill="none" stroke="#1a5a1a" stroke-width="3.5" stroke-linecap="round"/><path d="M 380.0 292.0 C 382.0 288.0 384.0 284.0 385.5 279.0 C 386.5 274.0 385.5 268.0 387.0 265.0 C 389.0 262.5 392.5 262.5 393.0 266.0 C 393.5 270.0 392.0 275.0 389.5 279.0 C 388.0 282.0 386.0 284.0 384.0 287.0" fill="none" stroke="#44b844" stroke-width="2.5" stroke-linecap="round"/><path d="M 380.0 292.0 C 382.0 288.0 384.0 284.0 385.5 279.0 C 386.5 274.0 385.5 268.0 387.0 265.0 C 389.0 262.5 392.5 262.5 393.0 266.0 C 393.5 270.0 392.0 275.0 389.5 279.0 C 388.0 282.0 386.0 284.0 384.0 287.0" fill="none" stroke="#8ae68a" stroke-width="0.9" stroke-linecap="round" opacity="0.8"/>
<path d="M 345.0 288.0 C 350.0 282.0 356.0 280.0 364.0 281.0" fill="none" stroke="#1a5a1a" stroke-width="3.5" stroke-linecap="round"/><path d="M 345.0 288.0 C 350.0 282.0 356.0 280.0 364.0 281.0" fill="none" stroke="#44b844" stroke-width="2.5" stroke-linecap="round"/><path d="M 345.0 288.0 C 350.0 282.0 356.0 280.0 364.0 281.0" fill="none" stroke="#8ae68a" stroke-width="0.9" stroke-linecap="round" opacity="0.8"/>
<path d="M 372.0 282.0 C 378.0 288.0 384.0 294.0 388.0 300.0" fill="none" stroke="#1a5a1a" stroke-width="3.5" stroke-linecap="round"/><path d="M 372.0 282.0 C 378.0 288.0 384.0 294.0 388.0 300.0" fill="none" stroke="#44b844" stroke-width="2.5" stroke-linecap="round"/><path d="M 372.0 282.0 C 378.0 288.0 384.0 294.0 388.0 300.0" fill="none" stroke="#8ae68a" stroke-width="0.9" stroke-linecap="round" opacity="0.8"/>
<polygon points="425.8,327.4 473.8,327.4 473.8,323.8 481.5,331.4 473.8,339.0 473.8,335.4 425.8,335.4" fill="#4f82c4" stroke="#3c6aa6" stroke-width="0.8"/>
<text x="433.4" y="321.7" font-size="12.6" textLength="34.6" lengthAdjust="spacingAndGlyphs">NaOH</text>
<rect x="494.3" y="275.4" width="72.5" height="62.6" fill="#2c8a2c"/>
<rect x="494.3" y="275.4" width="5.2" height="60.6" fill="#54c854"/>
<rect x="561.9" y="275.4" width="4.9" height="60.6" fill="#54c854"/>
<rect x="499" y="275.4" width="63.1" height="9" fill="#3aa83a"/>
<clipPath id="c5in"><rect x="499" y="275.4" width="63.1" height="60.6"/></clipPath>
<g clip-path="url(#c5in)">
<path d="M 509.3 291.2 C 518.6 285.2 530.7 285.2 540.0 289.2" fill="none" stroke="#1a5a1a" stroke-width="2.8" stroke-linecap="round"/><path d="M 509.3 291.2 C 518.6 285.2 530.7 285.2 540.0 289.2" fill="none" stroke="#44b844" stroke-width="1.8" stroke-linecap="round"/><path d="M 509.3 291.2 C 518.6 285.2 530.7 285.2 540.0 289.2" fill="none" stroke="#8ae68a" stroke-width="0.6" stroke-linecap="round" opacity="0.8"/>
<path d="M 513.9 299.2 C 521.4 305.2 528.8 303.2 536.2 299.2 C 545.5 295.2 553.0 291.2 562.3 287.2" fill="none" stroke="#1a5a1a" stroke-width="2.8" stroke-linecap="round"/><path d="M 513.9 299.2 C 521.4 305.2 528.8 303.2 536.2 299.2 C 545.5 295.2 553.0 291.2 562.3 287.2" fill="none" stroke="#44b844" stroke-width="1.8" stroke-linecap="round"/><path d="M 513.9 299.2 C 521.4 305.2 528.8 303.2 536.2 299.2 C 545.5 295.2 553.0 291.2 562.3 287.2" fill="none" stroke="#8ae68a" stroke-width="0.6" stroke-linecap="round" opacity="0.8"/>
<path d="M 523.2 311.2 C 528.8 305.2 538.1 303.2 547.4 305.2" fill="none" stroke="#1a5a1a" stroke-width="2.8" stroke-linecap="round"/><path d="M 523.2 311.2 C 528.8 305.2 538.1 303.2 547.4 305.2" fill="none" stroke="#44b844" stroke-width="1.8" stroke-linecap="round"/><path d="M 523.2 311.2 C 528.8 305.2 538.1 303.2 547.4 305.2" fill="none" stroke="#8ae68a" stroke-width="0.6" stroke-linecap="round" opacity="0.8"/>
<path d="M 513.9 323.2 C 523.2 325.2 534.4 321.2 545.5 317.2" fill="none" stroke="#1a5a1a" stroke-width="2.8" stroke-linecap="round"/><path d="M 513.9 323.2 C 523.2 325.2 534.4 321.2 545.5 317.2" fill="none" stroke="#44b844" stroke-width="1.8" stroke-linecap="round"/><path d="M 513.9 323.2 C 523.2 325.2 534.4 321.2 545.5 317.2" fill="none" stroke="#8ae68a" stroke-width="0.6" stroke-linecap="round" opacity="0.8"/>
<circle cx="507.5" cy="297.9" r="7.6" fill="url(#sul)"/>
<circle cx="526.0" cy="298.8" r="6.2" fill="url(#sul)"/>
<circle cx="550.4" cy="299.8" r="8.8" fill="url(#sul)"/>
<circle cx="508.4" cy="312.5" r="8.2" fill="url(#sul)"/>
<circle cx="536.8" cy="315.4" r="7.9" fill="url(#sul)"/>
<circle cx="523.1" cy="321.3" r="7.4" fill="url(#sul)"/>
<circle cx="553.4" cy="325.2" r="8.2" fill="url(#sul)"/>
<circle cx="509.4" cy="330.1" r="7.8" fill="url(#sul)"/>
<circle cx="534.8" cy="332.0" r="8.2" fill="url(#sul)"/>
<path d="M 540.0 325.2 C 549.3 323.2 558.6 321.2 564.1 317.2" fill="none" stroke="#1a5a1a" stroke-width="3.1" stroke-linecap="round"/><path d="M 540.0 325.2 C 549.3 323.2 558.6 321.2 564.1 317.2" fill="none" stroke="#44b844" stroke-width="2.1" stroke-linecap="round"/><path d="M 540.0 325.2 C 549.3 323.2 558.6 321.2 564.1 317.2" fill="none" stroke="#8ae68a" stroke-width="0.7" stroke-linecap="round" opacity="0.8"/>
<path d="M 523.2 335.2 C 525.1 327.2 528.8 321.2 534.4 315.2" fill="none" stroke="#1a5a1a" stroke-width="3.1" stroke-linecap="round"/><path d="M 523.2 335.2 C 525.1 327.2 528.8 321.2 534.4 315.2" fill="none" stroke="#44b844" stroke-width="2.1" stroke-linecap="round"/><path d="M 523.2 335.2 C 525.1 327.2 528.8 321.2 534.4 315.2" fill="none" stroke="#8ae68a" stroke-width="0.7" stroke-linecap="round" opacity="0.8"/>
<path d="M 545.5 337.2 C 549.3 331.2 556.7 329.2 564.1 325.2" fill="none" stroke="#1a5a1a" stroke-width="3.1" stroke-linecap="round"/><path d="M 545.5 337.2 C 549.3 331.2 556.7 329.2 564.1 325.2" fill="none" stroke="#44b844" stroke-width="2.1" stroke-linecap="round"/><path d="M 545.5 337.2 C 549.3 331.2 556.7 329.2 564.1 325.2" fill="none" stroke="#8ae68a" stroke-width="0.7" stroke-linecap="round" opacity="0.8"/>
<path d="M 538.1 299.2 C 540.0 307.2 543.7 311.2 549.3 315.2" fill="none" stroke="#1a5a1a" stroke-width="3.1" stroke-linecap="round"/><path d="M 538.1 299.2 C 540.0 307.2 543.7 311.2 549.3 315.2" fill="none" stroke="#44b844" stroke-width="2.1" stroke-linecap="round"/><path d="M 538.1 299.2 C 540.0 307.2 543.7 311.2 549.3 315.2" fill="none" stroke="#8ae68a" stroke-width="0.7" stroke-linecap="round" opacity="0.8"/>
</g>
<path d="M494.3 336.0Q530.5 341.0 566.8 336.0V371.1A36.2 6 0 0 1 494.3 371.1Z" fill="url(#gOut)"/>
<path d="M494.3 336.0Q530.5 341.0 566.8 336.0" fill="none" stroke="#80e480" stroke-width="1"/>
<path d="M 519.0 260.7 C 523.2 264.2 528.8 267.2 534.4 271.2 C 540.0 275.2 545.5 279.2 551.1 285.2 C 553.9 288.2 556.7 291.2 558.6 295.2" fill="none" stroke="#1a5a1a" stroke-width="3.4" stroke-linecap="round"/><path d="M 519.0 260.7 C 523.2 264.2 528.8 267.2 534.4 271.2 C 540.0 275.2 545.5 279.2 551.1 285.2 C 553.9 288.2 556.7 291.2 558.6 295.2" fill="none" stroke="#44b844" stroke-width="2.4" stroke-linecap="round"/><path d="M 519.0 260.7 C 523.2 264.2 528.8 267.2 534.4 271.2 C 540.0 275.2 545.5 279.2 551.1 285.2 C 553.9 288.2 556.7 291.2 558.6 295.2" fill="none" stroke="#8ae68a" stroke-width="0.8" stroke-linecap="round" opacity="0.8"/>
<path d="M 532.1 289.2 C 531.6 283.2 531.1 277.2 531.1 271.2 C 531.1 265.2 531.6 260.2 534.4 258.2 C 537.2 257.2 539.0 259.2 538.6 262.2 C 538.1 265.2 536.2 266.7 534.9 265.7" fill="none" stroke="#1a5a1a" stroke-width="3.4" stroke-linecap="round"/><path d="M 532.1 289.2 C 531.6 283.2 531.1 277.2 531.1 271.2 C 531.1 265.2 531.6 260.2 534.4 258.2 C 537.2 257.2 539.0 259.2 538.6 262.2 C 538.1 265.2 536.2 266.7 534.9 265.7" fill="none" stroke="#44b844" stroke-width="2.4" stroke-linecap="round"/><path d="M 532.1 289.2 C 531.6 283.2 531.1 277.2 531.1 271.2 C 531.1 265.2 531.6 260.2 534.4 258.2 C 537.2 257.2 539.0 259.2 538.6 262.2 C 538.1 265.2 536.2 266.7 534.9 265.7" fill="none" stroke="#8ae68a" stroke-width="0.8" stroke-linecap="round" opacity="0.8"/>
<path d="M 541.8 291.2 C 543.7 287.2 545.5 283.2 546.9 278.2 C 547.9 273.2 546.9 267.2 548.3 264.2 C 550.2 261.7 553.5 261.7 553.9 265.2 C 554.4 269.2 553.0 274.2 550.7 278.2 C 549.3 281.2 547.4 283.2 545.5 286.2" fill="none" stroke="#1a5a1a" stroke-width="3.4" stroke-linecap="round"/><path d="M 541.8 291.2 C 543.7 287.2 545.5 283.2 546.9 278.2 C 547.9 273.2 546.9 267.2 548.3 264.2 C 550.2 261.7 553.5 261.7 553.9 265.2 C 554.4 269.2 553.0 274.2 550.7 278.2 C 549.3 281.2 547.4 283.2 545.5 286.2" fill="none" stroke="#44b844" stroke-width="2.4" stroke-linecap="round"/><path d="M 541.8 291.2 C 543.7 287.2 545.5 283.2 546.9 278.2 C 547.9 273.2 546.9 267.2 548.3 264.2 C 550.2 261.7 553.5 261.7 553.9 265.2 C 554.4 269.2 553.0 274.2 550.7 278.2 C 549.3 281.2 547.4 283.2 545.5 286.2" fill="none" stroke="#8ae68a" stroke-width="0.8" stroke-linecap="round" opacity="0.8"/>
<path d="M 509.3 287.2 C 513.9 281.2 519.5 279.2 526.9 280.2" fill="none" stroke="#1a5a1a" stroke-width="3.4" stroke-linecap="round"/><path d="M 509.3 287.2 C 513.9 281.2 519.5 279.2 526.9 280.2" fill="none" stroke="#44b844" stroke-width="2.4" stroke-linecap="round"/><path d="M 509.3 287.2 C 513.9 281.2 519.5 279.2 526.9 280.2" fill="none" stroke="#8ae68a" stroke-width="0.8" stroke-linecap="round" opacity="0.8"/>
<path d="M 534.4 281.2 C 540.0 287.2 545.5 293.2 549.3 299.2" fill="none" stroke="#1a5a1a" stroke-width="3.4" stroke-linecap="round"/><path d="M 534.4 281.2 C 540.0 287.2 545.5 293.2 549.3 299.2" fill="none" stroke="#44b844" stroke-width="2.4" stroke-linecap="round"/><path d="M 534.4 281.2 C 540.0 287.2 545.5 293.2 549.3 299.2" fill="none" stroke="#8ae68a" stroke-width="0.8" stroke-linecap="round" opacity="0.8"/>
<text x="489.8" y="396.5" font-size="12.6" textLength="81.2" lengthAdjust="spacingAndGlyphs">S-CNTs@CNT</text>
<clipPath id="t2"><rect x="624.9" y="261.2" width="163.3" height="123.0"/></clipPath>
<radialGradient id="tdark" cx="0.15" cy="0.1" r="1.1"><stop offset="0" stop-color="#101010"/><stop offset="0.7" stop-color="#1a1a1a"/><stop offset="1" stop-color="#282828"/></radialGradient>
<radialGradient id="tbulge" cx="0.5" cy="0.5" r="0.5"><stop offset="0" stop-color="#9a9a9a"/><stop offset="0.55" stop-color="#6a6a6a"/><stop offset="1" stop-color="#2a2a2a" stop-opacity="0"/></radialGradient>
<g clip-path="url(#t2)">
<rect x="624.9" y="261.2" width="163.3" height="123.0" fill="#a6a6a6"/>
<g filter="url(#soft)">
<polygon points="662.2,337.6 700,318 725.4,339.4 722,348 712,382 693.8,380.7" fill="#b2b2b2"/>
<path d="M693.3 360.9 L691.6 359.9 L689.6 360.3 L687.8 359.4 M694.6 363.5 L696.6 363.8 L698.1 362.4 M713.3 367.3 L711.5 366.5 L709.6 366.0 M709.4 365.2 L711.4 365.5 L712.7 364.1 L712.9 362.1 L711.9 360.3 M692.7 374.4 L693.7 376.1 L695.7 376.0 L696.8 374.3 L698.4 373.1 M690.8 360.5 L689.6 358.9 L687.7 358.3 M684.2 337.4 L682.2 337.1 L680.2 337.3 M668.0 344.1 L666.8 342.5 L665.2 341.3 M711.6 346.9 L712.8 348.5 L714.4 349.8 M719.7 340.5 L721.6 339.8 L723.5 340.4 L725.3 339.7 L727.3 339.2 M693.1 343.2 L693.0 341.2 L692.4 339.2 L691.4 337.5 L692.4 335.8 M723.9 334.9 L721.9 334.7 L720.1 333.9 M679.9 346.4 L679.8 348.4 L681.4 349.7 L683.3 349.2 L685.3 349.2 M688.8 355.8 L686.8 355.6 L685.5 354.1 L683.6 353.7 L681.9 354.8 M682.0 343.1 L680.8 341.5 L680.4 339.5 L679.5 337.8 L678.5 336.0 M672.4 336.3 L673.0 338.2 L674.6 339.4 M707.5 346.3 L705.5 346.3 L704.3 344.7 L705.1 342.9 L704.3 341.1 M694.8 365.4 L692.9 364.9 L692.1 363.0 L690.4 362.1 L688.7 363.1 M683.1 355.4 L685.0 355.0 L687.0 354.8 M722.5 338.4 L724.3 339.2 L725.8 340.5 M706.7 362.1 L706.6 360.1 L706.3 358.1 M688.0 349.0 L689.8 349.8 L691.7 350.6 M708.9 349.3 L710.6 350.4 L711.5 352.2 M707.4 372.1 L705.7 373.1 L703.8 372.4 L703.0 370.5 M691.4 371.9 L689.9 370.6 L688.1 369.7 L686.5 368.4 M702.1 337.8 L704.1 338.2 L706.1 338.3 L707.9 337.5 L709.6 338.7 M706.9 356.0 L706.2 354.1 L706.6 352.1 L705.1 350.8 M701.7 357.1 L702.6 355.3 L704.3 354.4 M705.0 357.3 L705.0 359.3 L704.6 361.3 M697.0 370.2 L695.8 368.6 L696.1 366.7 L695.7 364.7 M705.3 343.5 L706.9 342.3 L707.4 340.4 L706.6 338.5 M679.8 340.5 L681.7 340.0 L683.6 340.4 L684.3 342.3 M683.5 342.1 L682.1 340.7 L681.9 338.7 L681.2 336.9 M697.1 366.3 L699.1 366.4 L701.1 366.3 L702.2 364.7 L701.4 362.8 M716.9 336.0 L717.1 338.0 L716.7 339.9 L716.0 341.8 L714.8 343.4 M690.7 343.1 L692.2 344.4 L694.1 343.8 L696.1 343.8 M693.0 364.2 L691.4 363.1 L689.5 363.8 L688.4 365.4 L686.4 366.0 M710.3 359.7 L711.9 360.8 L713.8 361.4 M707.0 359.0 L708.5 357.6 L710.5 357.6 L712.3 358.5 L714.3 358.2 M689.7 355.6 L690.0 353.6 L689.7 351.7 M699.9 376.2 L697.9 376.0 L696.1 377.0 L694.1 377.1 M713.8 364.8 L715.8 365.2 L717.8 365.2 L719.0 363.5 L719.4 361.6 M691.6 347.2 L690.4 348.8 L689.6 350.6 M706.4 378.0 L707.6 379.6 L707.8 381.6 L706.6 383.2 M706.6 379.4 L705.4 377.8 L705.2 375.8 L704.8 373.9 M699.3 373.9 L698.1 372.3 L698.3 370.3 L698.8 368.4 L698.5 366.4 M718.4 344.0 L720.4 343.7 L722.4 343.8 M696.2 363.1 L694.7 364.4 L692.7 364.1 M698.5 381.5 L696.6 380.8 L694.9 381.9 M698.2 353.9 L698.0 355.9 L699.4 357.3 L701.0 358.6 M713.7 377.2 L712.1 378.5 L710.9 380.0 L711.5 381.9 M722.7 335.7 L722.2 337.6 L722.4 339.6 M687.9 363.7 L685.9 363.4 L684.8 361.7 M702.9 368.4 L700.9 368.3 L699.0 368.8 L697.1 369.5 L695.2 370.2 M676.9 343.8 L675.1 344.6 L674.1 346.3 L672.9 347.9 L671.4 349.2 M703.2 350.7 L703.1 352.7 L701.5 353.9 M717.7 340.4 L719.7 340.3 L721.6 339.7 M698.4 367.8 L696.5 368.2 L695.8 370.1 M710.5 358.1 L712.3 357.4 L714.2 356.6 L714.4 354.6 L715.7 353.1 M702.3 377.4 L704.3 377.9 L706.1 377.1 L708.0 377.7 M673.3 337.0 L671.5 336.3 L669.5 336.3 L667.5 336.5 L665.5 336.7 M692.1 362.8 L690.1 363.2 L688.7 364.6 M690.8 351.3 L690.2 353.2 L691.1 355.0 L691.8 356.8 M712.9 367.8 L714.9 367.4 L716.1 365.9 L717.6 364.6 L718.6 362.8 M710.7 347.4 L711.8 345.8 L713.7 345.2 M711.0 370.7 L712.6 371.9 L713.2 373.8 L714.6 375.3 M670.8 347.1 L671.4 349.0 L672.4 350.7 L674.3 351.4 L675.9 350.3 M696.8 357.9 L697.4 356.0 L699.3 355.5 M709.4 346.3 L707.7 345.2 L706.6 343.6 L704.6 343.8 M682.5 347.2 L680.6 346.6 L680.2 344.6 L680.1 342.6 M713.3 337.7 L714.3 335.9 L714.8 334.0 L716.7 333.3 L718.3 332.1 M698.3 362.6 L700.1 361.7 L701.9 360.8 L703.9 360.4 M688.5 347.7 L686.7 348.7 L684.7 348.9 L682.9 348.2 L681.3 349.3 M711.3 362.1 L711.3 364.1 L711.8 366.0 L710.7 367.7 L708.9 368.5" fill="none" stroke="#4a4a4a" stroke-width="2.4" stroke-linecap="round" stroke-linejoin="round"/>
<path d="M693.3 360.9 L691.6 359.9 L689.6 360.3 L687.8 359.4 M694.6 363.5 L696.6 363.8 L698.1 362.4 M713.3 367.3 L711.5 366.5 L709.6 366.0 M709.4 365.2 L711.4 365.5 L712.7 364.1 L712.9 362.1 L711.9 360.3 M692.7 374.4 L693.7 376.1 L695.7 376.0 L696.8 374.3 L698.4 373.1 M690.8 360.5 L689.6 358.9 L687.7 358.3 M684.2 337.4 L682.2 337.1 L680.2 337.3 M668.0 344.1 L666.8 342.5 L665.2 341.3 M711.6 346.9 L712.8 348.5 L714.4 349.8 M719.7 340.5 L721.6 339.8 L723.5 340.4 L725.3 339.7 L727.3 339.2 M693.1 343.2 L693.0 341.2 L692.4 339.2 L691.4 337.5 L692.4 335.8 M723.9 334.9 L721.9 334.7 L720.1 333.9 M679.9 346.4 L679.8 348.4 L681.4 349.7 L683.3 349.2 L685.3 349.2 M688.8 355.8 L686.8 355.6 L685.5 354.1 L683.6 353.7 L681.9 354.8 M682.0 343.1 L680.8 341.5 L680.4 339.5 L679.5 337.8 L678.5 336.0 M672.4 336.3 L673.0 338.2 L674.6 339.4 M707.5 346.3 L705.5 346.3 L704.3 344.7 L705.1 342.9 L704.3 341.1 M694.8 365.4 L692.9 364.9 L692.1 363.0 L690.4 362.1 L688.7 363.1 M683.1 355.4 L685.0 355.0 L687.0 354.8 M722.5 338.4 L724.3 339.2 L725.8 340.5 M706.7 362.1 L706.6 360.1 L706.3 358.1 M688.0 349.0 L689.8 349.8 L691.7 350.6 M708.9 349.3 L710.6 350.4 L711.5 352.2 M707.4 372.1 L705.7 373.1 L703.8 372.4 L703.0 370.5 M691.4 371.9 L689.9 370.6 L688.1 369.7 L686.5 368.4 M702.1 337.8 L704.1 338.2 L706.1 338.3 L707.9 337.5 L709.6 338.7 M706.9 356.0 L706.2 354.1 L706.6 352.1 L705.1 350.8 M701.7 357.1 L702.6 355.3 L704.3 354.4 M705.0 357.3 L705.0 359.3 L704.6 361.3 M697.0 370.2 L695.8 368.6 L696.1 366.7 L695.7 364.7 M705.3 343.5 L706.9 342.3 L707.4 340.4 L706.6 338.5 M679.8 340.5 L681.7 340.0 L683.6 340.4 L684.3 342.3 M683.5 342.1 L682.1 340.7 L681.9 338.7 L681.2 336.9 M697.1 366.3 L699.1 366.4 L701.1 366.3 L702.2 364.7 L701.4 362.8 M716.9 336.0 L717.1 338.0 L716.7 339.9 L716.0 341.8 L714.8 343.4 M690.7 343.1 L692.2 344.4 L694.1 343.8 L696.1 343.8 M693.0 364.2 L691.4 363.1 L689.5 363.8 L688.4 365.4 L686.4 366.0 M710.3 359.7 L711.9 360.8 L713.8 361.4 M707.0 359.0 L708.5 357.6 L710.5 357.6 L712.3 358.5 L714.3 358.2 M689.7 355.6 L690.0 353.6 L689.7 351.7 M699.9 376.2 L697.9 376.0 L696.1 377.0 L694.1 377.1 M713.8 364.8 L715.8 365.2 L717.8 365.2 L719.0 363.5 L719.4 361.6 M691.6 347.2 L690.4 348.8 L689.6 350.6 M706.4 378.0 L707.6 379.6 L707.8 381.6 L706.6 383.2 M706.6 379.4 L705.4 377.8 L705.2 375.8 L704.8 373.9 M699.3 373.9 L698.1 372.3 L698.3 370.3 L698.8 368.4 L698.5 366.4 M718.4 344.0 L720.4 343.7 L722.4 343.8 M696.2 363.1 L694.7 364.4 L692.7 364.1 M698.5 381.5 L696.6 380.8 L694.9 381.9 M698.2 353.9 L698.0 355.9 L699.4 357.3 L701.0 358.6 M713.7 377.2 L712.1 378.5 L710.9 380.0 L711.5 381.9 M722.7 335.7 L722.2 337.6 L722.4 339.6 M687.9 363.7 L685.9 363.4 L684.8 361.7 M702.9 368.4 L700.9 368.3 L699.0 368.8 L697.1 369.5 L695.2 370.2 M676.9 343.8 L675.1 344.6 L674.1 346.3 L672.9 347.9 L671.4 349.2 M703.2 350.7 L703.1 352.7 L701.5 353.9 M717.7 340.4 L719.7 340.3 L721.6 339.7 M698.4 367.8 L696.5 368.2 L695.8 370.1 M710.5 358.1 L712.3 357.4 L714.2 356.6 L714.4 354.6 L715.7 353.1 M702.3 377.4 L704.3 377.9 L706.1 377.1 L708.0 377.7 M673.3 337.0 L671.5 336.3 L669.5 336.3 L667.5 336.5 L665.5 336.7 M692.1 362.8 L690.1 363.2 L688.7 364.6 M690.8 351.3 L690.2 353.2 L691.1 355.0 L691.8 356.8 M712.9 367.8 L714.9 367.4 L716.1 365.9 L717.6 364.6 L718.6 362.8 M710.7 347.4 L711.8 345.8 L713.7 345.2 M711.0 370.7 L712.6 371.9 L713.2 373.8 L714.6 375.3 M670.8 347.1 L671.4 349.0 L672.4 350.7 L674.3 351.4 L675.9 350.3 M696.8 357.9 L697.4 356.0 L699.3 355.5 M709.4 346.3 L707.7 345.2 L706.6 343.6 L704.6 343.8 M682.5 347.2 L680.6 346.6 L680.2 344.6 L680.1 342.6 M713.3 337.7 L714.3 335.9 L714.8 334.0 L716.7 333.3 L718.3 332.1 M698.3 362.6 L700.1 361.7 L701.9 360.8 L703.9 360.4 M688.5 347.7 L686.7 348.7 L684.7 348.9 L682.9 348.2 L681.3 349.3 M711.3 362.1 L711.3 364.1 L711.8 366.0 L710.7 367.7 L708.9 368.5" fill="none" stroke="#c8c8c8" stroke-width="0.8" stroke-linecap="round" stroke-linejoin="round"/>
<polyline points="662.2,337.6 693.8,380.7" fill="none" stroke="#303030" stroke-width="1.6"/>
<polyline points="660.5,339 692,382" fill="none" stroke="#dcdcdc" stroke-width="0.8"/>
<polyline points="697.3,298.9 725.4,339.4 722,346" fill="none" stroke="#2a2a2a" stroke-width="2"/>
<path d="M624.9 261.2 L668.3 261.2 L697.3 298.9 C703 308 704 318 700 326 C694 335 680 340 668 338.5 L662.2 337.6 L624.9 291 Z" fill="url(#tdark)"/>
<ellipse cx="696" cy="313" rx="7" ry="12" transform="rotate(-32 696 313)" fill="url(#tbulge)"/>
<path d="M697.3 298.9 L712 320 L704 326 C704 316 702 306 697.3 298.9Z" fill="#6a6a6a"/>
<polyline points="668.3,261.2 697.3,298.9 725.4,339.4" fill="none" stroke="#e0e0e0" stroke-width="1.1"/>
<polyline points="624.9,291 662.2,337.6" fill="none" stroke="#d8d8d8" stroke-width="1"/>
</g>
</g>
<text x="758.4" y="374.4" font-size="5.9" fill="#111" textLength="20.5" lengthAdjust="spacingAndGlyphs">100 nm</text>
<rect x="759.5" y="376.8" width="19" height="1.5" fill="#111"/>
<circle cx="51.6" cy="347.8" r="2.7" fill="url(#cu)"/>
<text x="62.8" y="352.9" font-size="12.5" textLength="16.0" lengthAdjust="spacingAndGlyphs">Cu</text>
<g fill="none" stroke-linecap="round"><g stroke="#1c4c1c" stroke-width="1.5"><ellipse cx="113.4" cy="349.6" rx="2.9" ry="5.3" transform="rotate(-38 113.4 349.6)"/><ellipse cx="121.3" cy="343.4" rx="3.1" ry="5.8" transform="rotate(-38 121.3 343.4)"/><path d="M118.5 354.5 C122 354 125 351 125.5 348.3 C128 349.5 132 347 133 342.3"/></g><g stroke="#7ad87a" stroke-width="0.5"><ellipse cx="113.4" cy="349.6" rx="2.9" ry="5.3" transform="rotate(-38 113.4 349.6)"/><ellipse cx="121.3" cy="343.4" rx="3.1" ry="5.8" transform="rotate(-38 121.3 343.4)"/></g></g>
<text x="140.8" y="352.9" font-size="12.5" textLength="26.0" lengthAdjust="spacingAndGlyphs">CNT</text>
<circle cx="200" cy="345.8" r="9.5" fill="url(#sulL)"/>
<text x="222.6" y="352.9" font-size="12.8" textLength="35.8" lengthAdjust="spacingAndGlyphs">Sulfur</text>
<clipPath id="plot"><rect x="75.7" y="411.9" width="714.3" height="296.9"/></clipPath>
<g clip-path="url(#plot)">
<polyline points="80.5,439.9 85.2,455.6 90.0,460.5 94.7,462.0 99.5,464.2 104.3,467.0 109.0,468.3 113.8,469.4 118.6,470.0 123.3,470.7 128.1,472.9 132.8,473.8 137.6,473.0 142.4,474.6 147.1,474.7 151.9,476.9 156.7,476.4 161.4,476.2 166.2,477.5 170.9,476.5 175.7,477.1 180.5,479.2 185.2,479.7 190.0,479.2 194.8,478.9 199.5,480.4 204.3,481.3 209.0,481.5 213.8,482.9 218.6,483.0 223.3,483.2 228.1,483.7 232.8,484.5 237.6,484.8 242.4,485.1 247.1,484.9 251.9,485.6 256.7,486.6 261.4,485.6 266.2,486.7 270.9,487.1 275.7,488.6 280.5,487.5 285.2,488.3 290.0,490.4 294.8,490.5 299.5,490.3 304.3,490.7 309.0,490.6 313.8,491.9 318.6,491.5 323.3,492.2 328.1,493.2 332.8,493.0 337.6,492.8 342.4,493.2 347.1,494.1 351.9,494.3 356.7,495.7 361.4,495.5 366.2,494.6 370.9,495.5 375.7,496.2 380.5,495.6 385.2,495.5 390.0,495.7 394.8,496.7 399.5,497.1 404.3,497.4 409.0,497.3 413.8,498.3 418.6,499.0 423.3,499.7 428.1,501.5 432.8,502.3 437.6,501.9 442.4,501.7 447.1,502.9 451.9,503.7 456.7,504.6 461.4,504.2 466.2,503.4 470.9,504.1 475.7,504.8 480.5,504.4 485.2,505.9 490.0,505.5 494.8,504.9 499.5,505.9 504.3,506.3 509.0,507.1 513.8,507.0 518.6,506.6 523.3,508.9 528.1,507.8 532.9,508.3 537.6,508.6 542.4,509.4 547.1,509.8 551.9,510.8" fill="none" stroke="#000" stroke-width="1"/>
<path d="M85.2 450.6l4.8 5.0l-4.8 5.0l-4.8 -5.0zM90.0 455.5l4.8 5.0l-4.8 5.0l-4.8 -5.0zM94.7 457.0l4.8 5.0l-4.8 5.0l-4.8 -5.0zM99.5 459.2l4.8 5.0l-4.8 5.0l-4.8 -5.0zM104.3 462.0l4.8 5.0l-4.8 5.0l-4.8 -5.0zM109.0 463.3l4.8 5.0l-4.8 5.0l-4.8 -5.0zM113.8 464.4l4.8 5.0l-4.8 5.0l-4.8 -5.0zM118.6 465.0l4.8 5.0l-4.8 5.0l-4.8 -5.0zM123.3 465.7l4.8 5.0l-4.8 5.0l-4.8 -5.0zM128.1 467.9l4.8 5.0l-4.8 5.0l-4.8 -5.0zM132.8 468.8l4.8 5.0l-4.8 5.0l-4.8 -5.0zM137.6 468.0l4.8 5.0l-4.8 5.0l-4.8 -5.0zM142.4 469.6l4.8 5.0l-4.8 5.0l-4.8 -5.0zM147.1 469.7l4.8 5.0l-4.8 5.0l-4.8 -5.0zM151.9 471.9l4.8 5.0l-4.8 5.0l-4.8 -5.0zM156.7 471.4l4.8 5.0l-4.8 5.0l-4.8 -5.0zM161.4 471.2l4.8 5.0l-4.8 5.0l-4.8 -5.0zM166.2 472.5l4.8 5.0l-4.8 5.0l-4.8 -5.0zM170.9 471.5l4.8 5.0l-4.8 5.0l-4.8 -5.0zM175.7 472.1l4.8 5.0l-4.8 5.0l-4.8 -5.0zM180.5 474.2l4.8 5.0l-4.8 5.0l-4.8 -5.0zM185.2 474.7l4.8 5.0l-4.8 5.0l-4.8 -5.0zM190.0 474.2l4.8 5.0l-4.8 5.0l-4.8 -5.0zM194.8 473.9l4.8 5.0l-4.8 5.0l-4.8 -5.0zM199.5 475.4l4.8 5.0l-4.8 5.0l-4.8 -5.0zM204.3 476.3l4.8 5.0l-4.8 5.0l-4.8 -5.0zM209.0 476.5l4.8 5.0l-4.8 5.0l-4.8 -5.0zM213.8 477.9l4.8 5.0l-4.8 5.0l-4.8 -5.0zM218.6 478.0l4.8 5.0l-4.8 5.0l-4.8 -5.0zM223.3 478.2l4.8 5.0l-4.8 5.0l-4.8 -5.0zM228.1 478.7l4.8 5.0l-4.8 5.0l-4.8 -5.0zM232.8 479.5l4.8 5.0l-4.8 5.0l-4.8 -5.0zM237.6 479.8l4.8 5.0l-4.8 5.0l-4.8 -5.0zM242.4 480.1l4.8 5.0l-4.8 5.0l-4.8 -5.0zM247.1 479.9l4.8 5.0l-4.8 5.0l-4.8 -5.0zM251.9 480.6l4.8 5.0l-4.8 5.0l-4.8 -5.0zM256.7 481.6l4.8 5.0l-4.8 5.0l-4.8 -5.0zM261.4 480.6l4.8 5.0l-4.8 5.0l-4.8 -5.0zM266.2 481.7l4.8 5.0l-4.8 5.0l-4.8 -5.0zM270.9 482.1l4.8 5.0l-4.8 5.0l-4.8 -5.0zM275.7 483.6l4.8 5.0l-4.8 5.0l-4.8 -5.0zM280.5 482.5l4.8 5.0l-4.8 5.0l-4.8 -5.0zM285.2 483.3l4.8 5.0l-4.8 5.0l-4.8 -5.0zM290.0 485.4l4.8 5.0l-4.8 5.0l-4.8 -5.0zM294.8 485.5l4.8 5.0l-4.8 5.0l-4.8 -5.0zM299.5 485.3l4.8 5.0l-4.8 5.0l-4.8 -5.0zM304.3 485.7l4.8 5.0l-4.8 5.0l-4.8 -5.0zM309.0 485.6l4.8 5.0l-4.8 5.0l-4.8 -5.0zM313.8 486.9l4.8 5.0l-4.8 5.0l-4.8 -5.0zM318.6 486.5l4.8 5.0l-4.8 5.0l-4.8 -5.0zM323.3 487.2l4.8 5.0l-4.8 5.0l-4.8 -5.0zM328.1 488.2l4.8 5.0l-4.8 5.0l-4.8 -5.0zM332.8 488.0l4.8 5.0l-4.8 5.0l-4.8 -5.0zM337.6 487.8l4.8 5.0l-4.8 5.0l-4.8 -5.0zM342.4 488.2l4.8 5.0l-4.8 5.0l-4.8 -5.0zM347.1 489.1l4.8 5.0l-4.8 5.0l-4.8 -5.0zM351.9 489.3l4.8 5.0l-4.8 5.0l-4.8 -5.0zM356.7 490.7l4.8 5.0l-4.8 5.0l-4.8 -5.0zM361.4 490.5l4.8 5.0l-4.8 5.0l-4.8 -5.0zM366.2 489.6l4.8 5.0l-4.8 5.0l-4.8 -5.0zM370.9 490.5l4.8 5.0l-4.8 5.0l-4.8 -5.0zM375.7 491.2l4.8 5.0l-4.8 5.0l-4.8 -5.0zM380.5 490.6l4.8 5.0l-4.8 5.0l-4.8 -5.0zM385.2 490.5l4.8 5.0l-4.8 5.0l-4.8 -5.0zM390.0 490.7l4.8 5.0l-4.8 5.0l-4.8 -5.0zM394.8 491.7l4.8 5.0l-4.8 5.0l-4.8 -5.0zM399.5 492.1l4.8 5.0l-4.8 5.0l-4.8 -5.0zM404.3 492.4l4.8 5.0l-4.8 5.0l-4.8 -5.0zM409.0 492.3l4.8 5.0l-4.8 5.0l-4.8 -5.0zM413.8 493.3l4.8 5.0l-4.8 5.0l-4.8 -5.0zM418.6 494.0l4.8 5.0l-4.8 5.0l-4.8 -5.0zM423.3 494.7l4.8 5.0l-4.8 5.0l-4.8 -5.0zM428.1 496.5l4.8 5.0l-4.8 5.0l-4.8 -5.0zM432.8 497.3l4.8 5.0l-4.8 5.0l-4.8 -5.0zM437.6 496.9l4.8 5.0l-4.8 5.0l-4.8 -5.0zM442.4 496.7l4.8 5.0l-4.8 5.0l-4.8 -5.0zM447.1 497.9l4.8 5.0l-4.8 5.0l-4.8 -5.0zM451.9 498.7l4.8 5.0l-4.8 5.0l-4.8 -5.0zM456.7 499.6l4.8 5.0l-4.8 5.0l-4.8 -5.0zM461.4 499.2l4.8 5.0l-4.8 5.0l-4.8 -5.0zM466.2 498.4l4.8 5.0l-4.8 5.0l-4.8 -5.0zM470.9 499.1l4.8 5.0l-4.8 5.0l-4.8 -5.0zM475.7 499.8l4.8 5.0l-4.8 5.0l-4.8 -5.0zM480.5 499.4l4.8 5.0l-4.8 5.0l-4.8 -5.0zM485.2 500.9l4.8 5.0l-4.8 5.0l-4.8 -5.0zM490.0 500.5l4.8 5.0l-4.8 5.0l-4.8 -5.0zM494.8 499.9l4.8 5.0l-4.8 5.0l-4.8 -5.0zM499.5 500.9l4.8 5.0l-4.8 5.0l-4.8 -5.0zM504.3 501.3l4.8 5.0l-4.8 5.0l-4.8 -5.0zM509.0 502.1l4.8 5.0l-4.8 5.0l-4.8 -5.0zM513.8 502.0l4.8 5.0l-4.8 5.0l-4.8 -5.0zM518.6 501.6l4.8 5.0l-4.8 5.0l-4.8 -5.0zM523.3 503.9l4.8 5.0l-4.8 5.0l-4.8 -5.0zM528.1 502.8l4.8 5.0l-4.8 5.0l-4.8 -5.0zM532.9 503.3l4.8 5.0l-4.8 5.0l-4.8 -5.0zM537.6 503.6l4.8 5.0l-4.8 5.0l-4.8 -5.0zM542.4 504.4l4.8 5.0l-4.8 5.0l-4.8 -5.0zM547.1 504.8l4.8 5.0l-4.8 5.0l-4.8 -5.0zM551.9 505.8l4.8 5.0l-4.8 5.0l-4.8 -5.0z" fill="#000"/>
<path d="M85.2 525.5l4.8 5.0l-4.8 5.0l-4.8 -5.0zM90.0 523.3l4.8 5.0l-4.8 5.0l-4.8 -5.0zM94.7 525.6l4.8 5.0l-4.8 5.0l-4.8 -5.0zM99.5 531.2l4.8 5.0l-4.8 5.0l-4.8 -5.0zM104.3 532.1l4.8 5.0l-4.8 5.0l-4.8 -5.0zM109.0 529.9l4.8 5.0l-4.8 5.0l-4.8 -5.0zM113.8 526.8l4.8 5.0l-4.8 5.0l-4.8 -5.0zM118.6 525.0l4.8 5.0l-4.8 5.0l-4.8 -5.0zM123.3 524.1l4.8 5.0l-4.8 5.0l-4.8 -5.0zM128.1 522.0l4.8 5.0l-4.8 5.0l-4.8 -5.0zM132.8 520.9l4.8 5.0l-4.8 5.0l-4.8 -5.0zM137.6 520.3l4.8 5.0l-4.8 5.0l-4.8 -5.0zM142.4 520.4l4.8 5.0l-4.8 5.0l-4.8 -5.0zM147.1 519.4l4.8 5.0l-4.8 5.0l-4.8 -5.0zM151.9 519.1l4.8 5.0l-4.8 5.0l-4.8 -5.0zM156.7 518.2l4.8 5.0l-4.8 5.0l-4.8 -5.0zM161.4 517.1l4.8 5.0l-4.8 5.0l-4.8 -5.0zM166.2 516.5l4.8 5.0l-4.8 5.0l-4.8 -5.0zM170.9 516.5l4.8 5.0l-4.8 5.0l-4.8 -5.0zM175.7 516.0l4.8 5.0l-4.8 5.0l-4.8 -5.0zM180.5 515.6l4.8 5.0l-4.8 5.0l-4.8 -5.0zM185.2 515.2l4.8 5.0l-4.8 5.0l-4.8 -5.0zM190.0 514.3l4.8 5.0l-4.8 5.0l-4.8 -5.0zM194.8 512.5l4.8 5.0l-4.8 5.0l-4.8 -5.0zM199.5 512.2l4.8 5.0l-4.8 5.0l-4.8 -5.0zM204.3 511.4l4.8 5.0l-4.8 5.0l-4.8 -5.0zM209.0 509.7l4.8 5.0l-4.8 5.0l-4.8 -5.0zM213.8 509.8l4.8 5.0l-4.8 5.0l-4.8 -5.0zM218.6 509.2l4.8 5.0l-4.8 5.0l-4.8 -5.0zM223.3 509.2l4.8 5.0l-4.8 5.0l-4.8 -5.0zM228.1 509.1l4.8 5.0l-4.8 5.0l-4.8 -5.0zM232.8 508.7l4.8 5.0l-4.8 5.0l-4.8 -5.0zM237.6 509.2l4.8 5.0l-4.8 5.0l-4.8 -5.0zM242.4 508.7l4.8 5.0l-4.8 5.0l-4.8 -5.0zM247.1 507.8l4.8 5.0l-4.8 5.0l-4.8 -5.0zM251.9 508.7l4.8 5.0l-4.8 5.0l-4.8 -5.0zM256.7 509.8l4.8 5.0l-4.8 5.0l-4.8 -5.0zM261.4 508.6l4.8 5.0l-4.8 5.0l-4.8 -5.0zM266.2 508.9l4.8 5.0l-4.8 5.0l-4.8 -5.0zM270.9 509.2l4.8 5.0l-4.8 5.0l-4.8 -5.0zM275.7 509.0l4.8 5.0l-4.8 5.0l-4.8 -5.0zM280.5 509.4l4.8 5.0l-4.8 5.0l-4.8 -5.0zM285.2 509.4l4.8 5.0l-4.8 5.0l-4.8 -5.0zM290.0 510.4l4.8 5.0l-4.8 5.0l-4.8 -5.0zM294.8 509.2l4.8 5.0l-4.8 5.0l-4.8 -5.0zM299.5 509.3l4.8 5.0l-4.8 5.0l-4.8 -5.0zM304.3 511.0l4.8 5.0l-4.8 5.0l-4.8 -5.0zM309.0 509.9l4.8 5.0l-4.8 5.0l-4.8 -5.0zM313.8 510.1l4.8 5.0l-4.8 5.0l-4.8 -5.0zM318.6 510.7l4.8 5.0l-4.8 5.0l-4.8 -5.0zM323.3 510.6l4.8 5.0l-4.8 5.0l-4.8 -5.0zM328.1 510.8l4.8 5.0l-4.8 5.0l-4.8 -5.0zM332.8 510.0l4.8 5.0l-4.8 5.0l-4.8 -5.0zM337.6 511.0l4.8 5.0l-4.8 5.0l-4.8 -5.0zM342.4 510.4l4.8 5.0l-4.8 5.0l-4.8 -5.0zM347.1 511.5l4.8 5.0l-4.8 5.0l-4.8 -5.0zM351.9 510.5l4.8 5.0l-4.8 5.0l-4.8 -5.0zM356.7 510.6l4.8 5.0l-4.8 5.0l-4.8 -5.0zM361.4 511.6l4.8 5.0l-4.8 5.0l-4.8 -5.0zM366.2 511.4l4.8 5.0l-4.8 5.0l-4.8 -5.0zM370.9 510.8l4.8 5.0l-4.8 5.0l-4.8 -5.0zM375.7 511.3l4.8 5.0l-4.8 5.0l-4.8 -5.0zM380.5 511.8l4.8 5.0l-4.8 5.0l-4.8 -5.0zM385.2 512.4l4.8 5.0l-4.8 5.0l-4.8 -5.0zM390.0 512.3l4.8 5.0l-4.8 5.0l-4.8 -5.0zM394.8 511.7l4.8 5.0l-4.8 5.0l-4.8 -5.0zM399.5 512.8l4.8 5.0l-4.8 5.0l-4.8 -5.0zM404.3 511.4l4.8 5.0l-4.8 5.0l-4.8 -5.0zM409.0 512.8l4.8 5.0l-4.8 5.0l-4.8 -5.0zM413.8 511.6l4.8 5.0l-4.8 5.0l-4.8 -5.0zM418.6 512.8l4.8 5.0l-4.8 5.0l-4.8 -5.0zM423.3 511.7l4.8 5.0l-4.8 5.0l-4.8 -5.0zM428.1 512.3l4.8 5.0l-4.8 5.0l-4.8 -5.0zM432.8 512.8l4.8 5.0l-4.8 5.0l-4.8 -5.0zM437.6 512.8l4.8 5.0l-4.8 5.0l-4.8 -5.0zM442.4 512.7l4.8 5.0l-4.8 5.0l-4.8 -5.0zM447.1 512.9l4.8 5.0l-4.8 5.0l-4.8 -5.0zM451.9 513.5l4.8 5.0l-4.8 5.0l-4.8 -5.0zM456.7 513.9l4.8 5.0l-4.8 5.0l-4.8 -5.0zM461.4 513.4l4.8 5.0l-4.8 5.0l-4.8 -5.0zM466.2 512.6l4.8 5.0l-4.8 5.0l-4.8 -5.0zM470.9 513.3l4.8 5.0l-4.8 5.0l-4.8 -5.0zM475.7 514.5l4.8 5.0l-4.8 5.0l-4.8 -5.0zM480.5 513.1l4.8 5.0l-4.8 5.0l-4.8 -5.0zM485.2 513.4l4.8 5.0l-4.8 5.0l-4.8 -5.0zM490.0 513.1l4.8 5.0l-4.8 5.0l-4.8 -5.0zM494.8 514.6l4.8 5.0l-4.8 5.0l-4.8 -5.0zM499.5 513.6l4.8 5.0l-4.8 5.0l-4.8 -5.0zM504.3 515.0l4.8 5.0l-4.8 5.0l-4.8 -5.0zM509.0 513.9l4.8 5.0l-4.8 5.0l-4.8 -5.0zM513.8 514.8l4.8 5.0l-4.8 5.0l-4.8 -5.0zM518.6 514.9l4.8 5.0l-4.8 5.0l-4.8 -5.0zM523.3 513.7l4.8 5.0l-4.8 5.0l-4.8 -5.0zM528.1 515.3l4.8 5.0l-4.8 5.0l-4.8 -5.0zM532.9 514.6l4.8 5.0l-4.8 5.0l-4.8 -5.0zM537.6 514.0l4.8 5.0l-4.8 5.0l-4.8 -5.0zM542.4 515.3l4.8 5.0l-4.8 5.0l-4.8 -5.0zM547.1 515.4l4.8 5.0l-4.8 5.0l-4.8 -5.0zM551.9 514.2l4.8 5.0l-4.8 5.0l-4.8 -5.0zM556.7 515.2l4.8 5.0l-4.8 5.0l-4.8 -5.0zM561.4 514.7l4.8 5.0l-4.8 5.0l-4.8 -5.0zM566.2 516.2l4.8 5.0l-4.8 5.0l-4.8 -5.0zM570.9 515.7l4.8 5.0l-4.8 5.0l-4.8 -5.0zM575.7 516.2l4.8 5.0l-4.8 5.0l-4.8 -5.0zM580.5 515.3l4.8 5.0l-4.8 5.0l-4.8 -5.0zM585.2 516.6l4.8 5.0l-4.8 5.0l-4.8 -5.0zM590.0 515.0l4.8 5.0l-4.8 5.0l-4.8 -5.0zM594.8 516.9l4.8 5.0l-4.8 5.0l-4.8 -5.0zM599.5 515.6l4.8 5.0l-4.8 5.0l-4.8 -5.0zM604.3 517.1l4.8 5.0l-4.8 5.0l-4.8 -5.0zM609.0 516.6l4.8 5.0l-4.8 5.0l-4.8 -5.0zM613.8 515.6l4.8 5.0l-4.8 5.0l-4.8 -5.0zM618.6 516.9l4.8 5.0l-4.8 5.0l-4.8 -5.0zM623.3 516.9l4.8 5.0l-4.8 5.0l-4.8 -5.0zM628.1 515.9l4.8 5.0l-4.8 5.0l-4.8 -5.0zM632.9 516.6l4.8 5.0l-4.8 5.0l-4.8 -5.0zM637.6 517.3l4.8 5.0l-4.8 5.0l-4.8 -5.0zM642.4 515.4l4.8 5.0l-4.8 5.0l-4.8 -5.0zM647.1 517.1l4.8 5.0l-4.8 5.0l-4.8 -5.0zM651.9 517.4l4.8 5.0l-4.8 5.0l-4.8 -5.0zM656.7 516.8l4.8 5.0l-4.8 5.0l-4.8 -5.0zM661.4 516.3l4.8 5.0l-4.8 5.0l-4.8 -5.0zM666.2 516.0l4.8 5.0l-4.8 5.0l-4.8 -5.0zM671.0 517.3l4.8 5.0l-4.8 5.0l-4.8 -5.0zM675.7 516.9l4.8 5.0l-4.8 5.0l-4.8 -5.0zM680.5 517.5l4.8 5.0l-4.8 5.0l-4.8 -5.0zM685.2 516.7l4.8 5.0l-4.8 5.0l-4.8 -5.0zM690.0 516.1l4.8 5.0l-4.8 5.0l-4.8 -5.0zM694.8 516.2l4.8 5.0l-4.8 5.0l-4.8 -5.0zM699.5 515.9l4.8 5.0l-4.8 5.0l-4.8 -5.0zM704.3 516.2l4.8 5.0l-4.8 5.0l-4.8 -5.0zM709.0 516.0l4.8 5.0l-4.8 5.0l-4.8 -5.0zM713.8 516.3l4.8 5.0l-4.8 5.0l-4.8 -5.0zM718.6 516.8l4.8 5.0l-4.8 5.0l-4.8 -5.0zM723.3 517.2l4.8 5.0l-4.8 5.0l-4.8 -5.0zM728.1 516.3l4.8 5.0l-4.8 5.0l-4.8 -5.0zM732.9 516.9l4.8 5.0l-4.8 5.0l-4.8 -5.0zM737.6 517.2l4.8 5.0l-4.8 5.0l-4.8 -5.0zM742.4 516.4l4.8 5.0l-4.8 5.0l-4.8 -5.0zM747.1 515.5l4.8 5.0l-4.8 5.0l-4.8 -5.0zM751.9 516.9l4.8 5.0l-4.8 5.0l-4.8 -5.0zM756.7 515.9l4.8 5.0l-4.8 5.0l-4.8 -5.0zM761.4 516.1l4.8 5.0l-4.8 5.0l-4.8 -5.0zM766.2 515.6l4.8 5.0l-4.8 5.0l-4.8 -5.0zM771.0 516.1l4.8 5.0l-4.8 5.0l-4.8 -5.0zM775.7 514.2l4.8 5.0l-4.8 5.0l-4.8 -5.0zM780.5 515.4l4.8 5.0l-4.8 5.0l-4.8 -5.0zM785.2 514.5l4.8 5.0l-4.8 5.0l-4.8 -5.0zM790.0 514.6l4.8 5.0l-4.8 5.0l-4.8 -5.0z" fill="#f00010"/>
<path d="M85.2 532.4l4.8 5.0l-4.8 5.0l-4.8 -5.0zM90.0 529.1l4.8 5.0l-4.8 5.0l-4.8 -5.0zM94.7 528.2l4.8 5.0l-4.8 5.0l-4.8 -5.0zM99.5 529.5l4.8 5.0l-4.8 5.0l-4.8 -5.0zM104.3 529.1l4.8 5.0l-4.8 5.0l-4.8 -5.0zM109.0 528.3l4.8 5.0l-4.8 5.0l-4.8 -5.0zM113.8 528.4l4.8 5.0l-4.8 5.0l-4.8 -5.0zM118.6 527.9l4.8 5.0l-4.8 5.0l-4.8 -5.0zM123.3 525.9l4.8 5.0l-4.8 5.0l-4.8 -5.0zM128.1 526.3l4.8 5.0l-4.8 5.0l-4.8 -5.0zM132.8 525.8l4.8 5.0l-4.8 5.0l-4.8 -5.0zM137.6 524.1l4.8 5.0l-4.8 5.0l-4.8 -5.0zM142.4 524.5l4.8 5.0l-4.8 5.0l-4.8 -5.0zM147.1 523.3l4.8 5.0l-4.8 5.0l-4.8 -5.0zM151.9 523.3l4.8 5.0l-4.8 5.0l-4.8 -5.0zM156.7 522.5l4.8 5.0l-4.8 5.0l-4.8 -5.0zM161.4 522.8l4.8 5.0l-4.8 5.0l-4.8 -5.0zM166.2 521.5l4.8 5.0l-4.8 5.0l-4.8 -5.0zM170.9 520.7l4.8 5.0l-4.8 5.0l-4.8 -5.0zM175.7 520.8l4.8 5.0l-4.8 5.0l-4.8 -5.0zM180.5 520.0l4.8 5.0l-4.8 5.0l-4.8 -5.0zM185.2 519.8l4.8 5.0l-4.8 5.0l-4.8 -5.0zM190.0 520.7l4.8 5.0l-4.8 5.0l-4.8 -5.0zM194.8 519.4l4.8 5.0l-4.8 5.0l-4.8 -5.0zM199.5 519.5l4.8 5.0l-4.8 5.0l-4.8 -5.0zM204.3 519.8l4.8 5.0l-4.8 5.0l-4.8 -5.0zM209.0 520.1l4.8 5.0l-4.8 5.0l-4.8 -5.0zM213.8 518.6l4.8 5.0l-4.8 5.0l-4.8 -5.0zM218.6 519.1l4.8 5.0l-4.8 5.0l-4.8 -5.0zM223.3 518.6l4.8 5.0l-4.8 5.0l-4.8 -5.0zM228.1 518.2l4.8 5.0l-4.8 5.0l-4.8 -5.0zM232.8 518.4l4.8 5.0l-4.8 5.0l-4.8 -5.0zM237.6 518.0l4.8 5.0l-4.8 5.0l-4.8 -5.0zM242.4 518.8l4.8 5.0l-4.8 5.0l-4.8 -5.0zM247.1 518.0l4.8 5.0l-4.8 5.0l-4.8 -5.0zM251.9 518.5l4.8 5.0l-4.8 5.0l-4.8 -5.0zM256.7 517.5l4.8 5.0l-4.8 5.0l-4.8 -5.0zM261.4 517.4l4.8 5.0l-4.8 5.0l-4.8 -5.0zM266.2 518.5l4.8 5.0l-4.8 5.0l-4.8 -5.0zM270.9 518.3l4.8 5.0l-4.8 5.0l-4.8 -5.0zM275.7 518.0l4.8 5.0l-4.8 5.0l-4.8 -5.0zM280.5 516.5l4.8 5.0l-4.8 5.0l-4.8 -5.0zM285.2 517.2l4.8 5.0l-4.8 5.0l-4.8 -5.0zM290.0 516.7l4.8 5.0l-4.8 5.0l-4.8 -5.0zM294.8 517.1l4.8 5.0l-4.8 5.0l-4.8 -5.0zM299.5 516.6l4.8 5.0l-4.8 5.0l-4.8 -5.0zM304.3 516.7l4.8 5.0l-4.8 5.0l-4.8 -5.0zM309.0 516.6l4.8 5.0l-4.8 5.0l-4.8 -5.0zM313.8 516.1l4.8 5.0l-4.8 5.0l-4.8 -5.0zM318.6 516.0l4.8 5.0l-4.8 5.0l-4.8 -5.0zM323.3 515.4l4.8 5.0l-4.8 5.0l-4.8 -5.0zM328.1 515.7l4.8 5.0l-4.8 5.0l-4.8 -5.0zM332.8 515.2l4.8 5.0l-4.8 5.0l-4.8 -5.0zM337.6 515.2l4.8 5.0l-4.8 5.0l-4.8 -5.0zM342.4 514.9l4.8 5.0l-4.8 5.0l-4.8 -5.0zM347.1 515.3l4.8 5.0l-4.8 5.0l-4.8 -5.0zM351.9 516.0l4.8 5.0l-4.8 5.0l-4.8 -5.0zM356.7 514.8l4.8 5.0l-4.8 5.0l-4.8 -5.0zM361.4 514.5l4.8 5.0l-4.8 5.0l-4.8 -5.0zM366.2 514.6l4.8 5.0l-4.8 5.0l-4.8 -5.0zM370.9 515.2l4.8 5.0l-4.8 5.0l-4.8 -5.0zM375.7 515.0l4.8 5.0l-4.8 5.0l-4.8 -5.0zM380.5 515.9l4.8 5.0l-4.8 5.0l-4.8 -5.0zM385.2 514.9l4.8 5.0l-4.8 5.0l-4.8 -5.0zM390.0 515.3l4.8 5.0l-4.8 5.0l-4.8 -5.0zM394.8 515.8l4.8 5.0l-4.8 5.0l-4.8 -5.0zM399.5 516.2l4.8 5.0l-4.8 5.0l-4.8 -5.0zM404.3 514.9l4.8 5.0l-4.8 5.0l-4.8 -5.0zM409.0 514.7l4.8 5.0l-4.8 5.0l-4.8 -5.0zM413.8 516.2l4.8 5.0l-4.8 5.0l-4.8 -5.0zM418.6 515.1l4.8 5.0l-4.8 5.0l-4.8 -5.0zM423.3 515.8l4.8 5.0l-4.8 5.0l-4.8 -5.0zM428.1 516.3l4.8 5.0l-4.8 5.0l-4.8 -5.0zM432.8 516.1l4.8 5.0l-4.8 5.0l-4.8 -5.0zM437.6 515.3l4.8 5.0l-4.8 5.0l-4.8 -5.0zM442.4 515.2l4.8 5.0l-4.8 5.0l-4.8 -5.0zM447.1 516.6l4.8 5.0l-4.8 5.0l-4.8 -5.0zM451.9 515.7l4.8 5.0l-4.8 5.0l-4.8 -5.0zM456.7 516.7l4.8 5.0l-4.8 5.0l-4.8 -5.0zM461.4 515.7l4.8 5.0l-4.8 5.0l-4.8 -5.0zM466.2 516.3l4.8 5.0l-4.8 5.0l-4.8 -5.0zM470.9 515.5l4.8 5.0l-4.8 5.0l-4.8 -5.0zM475.7 515.4l4.8 5.0l-4.8 5.0l-4.8 -5.0zM480.5 516.2l4.8 5.0l-4.8 5.0l-4.8 -5.0zM485.2 515.4l4.8 5.0l-4.8 5.0l-4.8 -5.0zM490.0 516.6l4.8 5.0l-4.8 5.0l-4.8 -5.0zM494.8 517.0l4.8 5.0l-4.8 5.0l-4.8 -5.0zM499.5 516.2l4.8 5.0l-4.8 5.0l-4.8 -5.0zM504.3 517.2l4.8 5.0l-4.8 5.0l-4.8 -5.0zM509.0 517.0l4.8 5.0l-4.8 5.0l-4.8 -5.0zM513.8 516.7l4.8 5.0l-4.8 5.0l-4.8 -5.0zM518.6 516.5l4.8 5.0l-4.8 5.0l-4.8 -5.0zM523.3 517.3l4.8 5.0l-4.8 5.0l-4.8 -5.0zM528.1 517.6l4.8 5.0l-4.8 5.0l-4.8 -5.0zM532.9 516.3l4.8 5.0l-4.8 5.0l-4.8 -5.0zM537.6 517.3l4.8 5.0l-4.8 5.0l-4.8 -5.0zM542.4 516.3l4.8 5.0l-4.8 5.0l-4.8 -5.0zM547.1 516.5l4.8 5.0l-4.8 5.0l-4.8 -5.0zM551.9 517.4l4.8 5.0l-4.8 5.0l-4.8 -5.0zM556.7 517.3l4.8 5.0l-4.8 5.0l-4.8 -5.0zM561.4 517.3l4.8 5.0l-4.8 5.0l-4.8 -5.0zM566.2 517.1l4.8 5.0l-4.8 5.0l-4.8 -5.0zM570.9 517.2l4.8 5.0l-4.8 5.0l-4.8 -5.0zM575.7 517.3l4.8 5.0l-4.8 5.0l-4.8 -5.0zM580.5 517.2l4.8 5.0l-4.8 5.0l-4.8 -5.0zM585.2 516.8l4.8 5.0l-4.8 5.0l-4.8 -5.0zM590.0 517.5l4.8 5.0l-4.8 5.0l-4.8 -5.0zM594.8 517.7l4.8 5.0l-4.8 5.0l-4.8 -5.0zM599.5 517.2l4.8 5.0l-4.8 5.0l-4.8 -5.0zM604.3 518.0l4.8 5.0l-4.8 5.0l-4.8 -5.0zM609.0 518.0l4.8 5.0l-4.8 5.0l-4.8 -5.0zM613.8 516.9l4.8 5.0l-4.8 5.0l-4.8 -5.0zM618.6 517.7l4.8 5.0l-4.8 5.0l-4.8 -5.0zM623.3 517.7l4.8 5.0l-4.8 5.0l-4.8 -5.0zM628.1 518.5l4.8 5.0l-4.8 5.0l-4.8 -5.0zM632.9 517.9l4.8 5.0l-4.8 5.0l-4.8 -5.0zM637.6 517.6l4.8 5.0l-4.8 5.0l-4.8 -5.0zM642.4 518.5l4.8 5.0l-4.8 5.0l-4.8 -5.0zM647.1 517.5l4.8 5.0l-4.8 5.0l-4.8 -5.0zM651.9 517.5l4.8 5.0l-4.8 5.0l-4.8 -5.0zM656.7 518.4l4.8 5.0l-4.8 5.0l-4.8 -5.0zM661.4 517.4l4.8 5.0l-4.8 5.0l-4.8 -5.0zM666.2 517.7l4.8 5.0l-4.8 5.0l-4.8 -5.0zM671.0 517.3l4.8 5.0l-4.8 5.0l-4.8 -5.0zM675.7 517.9l4.8 5.0l-4.8 5.0l-4.8 -5.0zM680.5 517.3l4.8 5.0l-4.8 5.0l-4.8 -5.0zM685.2 517.2l4.8 5.0l-4.8 5.0l-4.8 -5.0zM690.0 518.4l4.8 5.0l-4.8 5.0l-4.8 -5.0zM694.8 518.3l4.8 5.0l-4.8 5.0l-4.8 -5.0zM699.5 517.3l4.8 5.0l-4.8 5.0l-4.8 -5.0zM704.3 516.8l4.8 5.0l-4.8 5.0l-4.8 -5.0zM709.0 518.0l4.8 5.0l-4.8 5.0l-4.8 -5.0zM713.8 517.7l4.8 5.0l-4.8 5.0l-4.8 -5.0zM718.6 517.5l4.8 5.0l-4.8 5.0l-4.8 -5.0zM723.3 517.9l4.8 5.0l-4.8 5.0l-4.8 -5.0zM728.1 517.9l4.8 5.0l-4.8 5.0l-4.8 -5.0zM732.9 518.0l4.8 5.0l-4.8 5.0l-4.8 -5.0zM737.6 517.9l4.8 5.0l-4.8 5.0l-4.8 -5.0zM742.4 517.5l4.8 5.0l-4.8 5.0l-4.8 -5.0zM747.1 518.0l4.8 5.0l-4.8 5.0l-4.8 -5.0zM751.9 517.9l4.8 5.0l-4.8 5.0l-4.8 -5.0zM756.7 517.2l4.8 5.0l-4.8 5.0l-4.8 -5.0zM761.4 518.5l4.8 5.0l-4.8 5.0l-4.8 -5.0zM766.2 517.6l4.8 5.0l-4.8 5.0l-4.8 -5.0zM771.0 517.3l4.8 5.0l-4.8 5.0l-4.8 -5.0zM775.7 518.0l4.8 5.0l-4.8 5.0l-4.8 -5.0zM780.5 518.2l4.8 5.0l-4.8 5.0l-4.8 -5.0zM785.2 517.2l4.8 5.0l-4.8 5.0l-4.8 -5.0zM790.0 518.2l4.8 5.0l-4.8 5.0l-4.8 -5.0z" fill="#0a0ae6"/>
<line x1="81.1" y1="439.0" x2="84.8" y2="542.2" stroke="#44cc44" stroke-width="1"/>
<line x1="82.1" y1="444.0" x2="85.6" y2="542.2" stroke="#555" stroke-width="1" stroke-dasharray="3,2"/>
<path d="M80.5 434.0l4.8 5.0l-4.8 5.0l-4.8 -5.0zM85.2 537.2l4.8 5.0l-4.8 5.0l-4.8 -5.0zM90.0 537.4l4.8 5.0l-4.8 5.0l-4.8 -5.0zM94.7 542.1l4.8 5.0l-4.8 5.0l-4.8 -5.0zM99.5 543.7l4.8 5.0l-4.8 5.0l-4.8 -5.0zM104.3 544.2l4.8 5.0l-4.8 5.0l-4.8 -5.0zM109.0 543.0l4.8 5.0l-4.8 5.0l-4.8 -5.0zM113.8 540.7l4.8 5.0l-4.8 5.0l-4.8 -5.0zM118.6 538.0l4.8 5.0l-4.8 5.0l-4.8 -5.0zM123.3 535.8l4.8 5.0l-4.8 5.0l-4.8 -5.0zM128.1 533.1l4.8 5.0l-4.8 5.0l-4.8 -5.0zM132.8 533.0l4.8 5.0l-4.8 5.0l-4.8 -5.0zM137.6 531.2l4.8 5.0l-4.8 5.0l-4.8 -5.0zM142.4 530.7l4.8 5.0l-4.8 5.0l-4.8 -5.0zM147.1 529.9l4.8 5.0l-4.8 5.0l-4.8 -5.0zM151.9 529.3l4.8 5.0l-4.8 5.0l-4.8 -5.0zM156.7 528.7l4.8 5.0l-4.8 5.0l-4.8 -5.0zM161.4 527.0l4.8 5.0l-4.8 5.0l-4.8 -5.0zM166.2 526.8l4.8 5.0l-4.8 5.0l-4.8 -5.0zM170.9 526.5l4.8 5.0l-4.8 5.0l-4.8 -5.0zM175.7 526.4l4.8 5.0l-4.8 5.0l-4.8 -5.0zM180.5 527.5l4.8 5.0l-4.8 5.0l-4.8 -5.0zM185.2 527.1l4.8 5.0l-4.8 5.0l-4.8 -5.0zM190.0 526.4l4.8 5.0l-4.8 5.0l-4.8 -5.0zM194.8 526.1l4.8 5.0l-4.8 5.0l-4.8 -5.0zM199.5 525.7l4.8 5.0l-4.8 5.0l-4.8 -5.0zM204.3 525.5l4.8 5.0l-4.8 5.0l-4.8 -5.0zM209.0 527.0l4.8 5.0l-4.8 5.0l-4.8 -5.0zM213.8 525.8l4.8 5.0l-4.8 5.0l-4.8 -5.0zM218.6 525.6l4.8 5.0l-4.8 5.0l-4.8 -5.0zM223.3 525.8l4.8 5.0l-4.8 5.0l-4.8 -5.0zM228.1 526.3l4.8 5.0l-4.8 5.0l-4.8 -5.0zM232.8 525.7l4.8 5.0l-4.8 5.0l-4.8 -5.0zM237.6 526.5l4.8 5.0l-4.8 5.0l-4.8 -5.0zM242.4 524.9l4.8 5.0l-4.8 5.0l-4.8 -5.0zM247.1 525.0l4.8 5.0l-4.8 5.0l-4.8 -5.0zM251.9 525.7l4.8 5.0l-4.8 5.0l-4.8 -5.0zM256.7 526.2l4.8 5.0l-4.8 5.0l-4.8 -5.0zM261.4 525.0l4.8 5.0l-4.8 5.0l-4.8 -5.0zM266.2 525.7l4.8 5.0l-4.8 5.0l-4.8 -5.0zM270.9 525.1l4.8 5.0l-4.8 5.0l-4.8 -5.0zM275.7 525.2l4.8 5.0l-4.8 5.0l-4.8 -5.0zM280.5 525.9l4.8 5.0l-4.8 5.0l-4.8 -5.0zM285.2 526.1l4.8 5.0l-4.8 5.0l-4.8 -5.0zM290.0 525.8l4.8 5.0l-4.8 5.0l-4.8 -5.0zM294.8 526.1l4.8 5.0l-4.8 5.0l-4.8 -5.0zM299.5 526.7l4.8 5.0l-4.8 5.0l-4.8 -5.0zM304.3 526.4l4.8 5.0l-4.8 5.0l-4.8 -5.0zM309.0 525.4l4.8 5.0l-4.8 5.0l-4.8 -5.0zM313.8 527.0l4.8 5.0l-4.8 5.0l-4.8 -5.0zM318.6 527.0l4.8 5.0l-4.8 5.0l-4.8 -5.0zM323.3 525.9l4.8 5.0l-4.8 5.0l-4.8 -5.0zM328.1 526.7l4.8 5.0l-4.8 5.0l-4.8 -5.0zM332.8 526.2l4.8 5.0l-4.8 5.0l-4.8 -5.0zM337.6 526.4l4.8 5.0l-4.8 5.0l-4.8 -5.0zM342.4 526.6l4.8 5.0l-4.8 5.0l-4.8 -5.0zM347.1 525.4l4.8 5.0l-4.8 5.0l-4.8 -5.0zM351.9 527.0l4.8 5.0l-4.8 5.0l-4.8 -5.0zM356.7 526.6l4.8 5.0l-4.8 5.0l-4.8 -5.0zM361.4 527.1l4.8 5.0l-4.8 5.0l-4.8 -5.0zM366.2 526.3l4.8 5.0l-4.8 5.0l-4.8 -5.0zM370.9 527.1l4.8 5.0l-4.8 5.0l-4.8 -5.0zM375.7 527.0l4.8 5.0l-4.8 5.0l-4.8 -5.0zM380.5 526.3l4.8 5.0l-4.8 5.0l-4.8 -5.0zM385.2 527.2l4.8 5.0l-4.8 5.0l-4.8 -5.0zM390.0 526.8l4.8 5.0l-4.8 5.0l-4.8 -5.0zM394.8 526.2l4.8 5.0l-4.8 5.0l-4.8 -5.0zM399.5 527.8l4.8 5.0l-4.8 5.0l-4.8 -5.0zM404.3 528.0l4.8 5.0l-4.8 5.0l-4.8 -5.0zM409.0 527.7l4.8 5.0l-4.8 5.0l-4.8 -5.0zM413.8 526.7l4.8 5.0l-4.8 5.0l-4.8 -5.0zM418.6 527.1l4.8 5.0l-4.8 5.0l-4.8 -5.0zM423.3 527.9l4.8 5.0l-4.8 5.0l-4.8 -5.0zM428.1 527.9l4.8 5.0l-4.8 5.0l-4.8 -5.0zM432.8 528.3l4.8 5.0l-4.8 5.0l-4.8 -5.0zM437.6 527.8l4.8 5.0l-4.8 5.0l-4.8 -5.0zM442.4 528.8l4.8 5.0l-4.8 5.0l-4.8 -5.0zM447.1 527.6l4.8 5.0l-4.8 5.0l-4.8 -5.0zM451.9 527.3l4.8 5.0l-4.8 5.0l-4.8 -5.0zM456.7 527.3l4.8 5.0l-4.8 5.0l-4.8 -5.0zM461.4 527.8l4.8 5.0l-4.8 5.0l-4.8 -5.0zM466.2 527.5l4.8 5.0l-4.8 5.0l-4.8 -5.0zM470.9 529.5l4.8 5.0l-4.8 5.0l-4.8 -5.0zM475.7 529.0l4.8 5.0l-4.8 5.0l-4.8 -5.0zM480.5 527.8l4.8 5.0l-4.8 5.0l-4.8 -5.0zM485.2 528.3l4.8 5.0l-4.8 5.0l-4.8 -5.0zM490.0 529.1l4.8 5.0l-4.8 5.0l-4.8 -5.0zM494.8 528.2l4.8 5.0l-4.8 5.0l-4.8 -5.0zM499.5 528.9l4.8 5.0l-4.8 5.0l-4.8 -5.0zM504.3 528.7l4.8 5.0l-4.8 5.0l-4.8 -5.0zM509.0 529.7l4.8 5.0l-4.8 5.0l-4.8 -5.0zM513.8 529.9l4.8 5.0l-4.8 5.0l-4.8 -5.0zM518.6 529.4l4.8 5.0l-4.8 5.0l-4.8 -5.0zM523.3 530.1l4.8 5.0l-4.8 5.0l-4.8 -5.0zM528.1 529.6l4.8 5.0l-4.8 5.0l-4.8 -5.0zM532.9 528.5l4.8 5.0l-4.8 5.0l-4.8 -5.0zM537.6 529.7l4.8 5.0l-4.8 5.0l-4.8 -5.0zM542.4 530.4l4.8 5.0l-4.8 5.0l-4.8 -5.0zM547.1 530.3l4.8 5.0l-4.8 5.0l-4.8 -5.0zM551.9 530.1l4.8 5.0l-4.8 5.0l-4.8 -5.0zM556.7 528.9l4.8 5.0l-4.8 5.0l-4.8 -5.0zM561.4 529.8l4.8 5.0l-4.8 5.0l-4.8 -5.0zM566.2 529.9l4.8 5.0l-4.8 5.0l-4.8 -5.0zM570.9 530.3l4.8 5.0l-4.8 5.0l-4.8 -5.0zM575.7 528.6l4.8 5.0l-4.8 5.0l-4.8 -5.0zM580.5 529.7l4.8 5.0l-4.8 5.0l-4.8 -5.0zM585.2 530.1l4.8 5.0l-4.8 5.0l-4.8 -5.0zM590.0 530.5l4.8 5.0l-4.8 5.0l-4.8 -5.0zM594.8 530.5l4.8 5.0l-4.8 5.0l-4.8 -5.0zM599.5 530.3l4.8 5.0l-4.8 5.0l-4.8 -5.0zM604.3 529.3l4.8 5.0l-4.8 5.0l-4.8 -5.0zM609.0 530.4l4.8 5.0l-4.8 5.0l-4.8 -5.0zM613.8 530.6l4.8 5.0l-4.8 5.0l-4.8 -5.0zM618.6 529.8l4.8 5.0l-4.8 5.0l-4.8 -5.0zM623.3 530.3l4.8 5.0l-4.8 5.0l-4.8 -5.0zM628.1 529.5l4.8 5.0l-4.8 5.0l-4.8 -5.0zM632.9 532.0l4.8 5.0l-4.8 5.0l-4.8 -5.0zM637.6 531.9l4.8 5.0l-4.8 5.0l-4.8 -5.0zM642.4 532.0l4.8 5.0l-4.8 5.0l-4.8 -5.0zM647.1 533.4l4.8 5.0l-4.8 5.0l-4.8 -5.0zM651.9 532.9l4.8 5.0l-4.8 5.0l-4.8 -5.0zM656.7 534.5l4.8 5.0l-4.8 5.0l-4.8 -5.0zM661.4 535.6l4.8 5.0l-4.8 5.0l-4.8 -5.0zM666.2 535.9l4.8 5.0l-4.8 5.0l-4.8 -5.0zM671.0 537.2l4.8 5.0l-4.8 5.0l-4.8 -5.0zM675.7 537.0l4.8 5.0l-4.8 5.0l-4.8 -5.0zM680.5 537.9l4.8 5.0l-4.8 5.0l-4.8 -5.0zM685.2 537.2l4.8 5.0l-4.8 5.0l-4.8 -5.0zM690.0 537.9l4.8 5.0l-4.8 5.0l-4.8 -5.0zM694.8 539.1l4.8 5.0l-4.8 5.0l-4.8 -5.0zM699.5 540.6l4.8 5.0l-4.8 5.0l-4.8 -5.0zM704.3 540.3l4.8 5.0l-4.8 5.0l-4.8 -5.0zM709.0 540.5l4.8 5.0l-4.8 5.0l-4.8 -5.0zM713.8 540.8l4.8 5.0l-4.8 5.0l-4.8 -5.0zM718.6 540.9l4.8 5.0l-4.8 5.0l-4.8 -5.0zM723.3 539.8l4.8 5.0l-4.8 5.0l-4.8 -5.0zM728.1 541.5l4.8 5.0l-4.8 5.0l-4.8 -5.0zM732.9 541.9l4.8 5.0l-4.8 5.0l-4.8 -5.0zM737.6 540.5l4.8 5.0l-4.8 5.0l-4.8 -5.0zM742.4 541.5l4.8 5.0l-4.8 5.0l-4.8 -5.0zM747.1 540.9l4.8 5.0l-4.8 5.0l-4.8 -5.0zM751.9 542.3l4.8 5.0l-4.8 5.0l-4.8 -5.0zM756.7 541.8l4.8 5.0l-4.8 5.0l-4.8 -5.0zM761.4 542.7l4.8 5.0l-4.8 5.0l-4.8 -5.0zM766.2 542.8l4.8 5.0l-4.8 5.0l-4.8 -5.0zM771.0 543.3l4.8 5.0l-4.8 5.0l-4.8 -5.0zM775.7 544.4l4.8 5.0l-4.8 5.0l-4.8 -5.0zM780.5 545.7l4.8 5.0l-4.8 5.0l-4.8 -5.0zM785.2 546.0l4.8 5.0l-4.8 5.0l-4.8 -5.0zM790.0 545.2l4.8 5.0l-4.8 5.0l-4.8 -5.0z" fill="#1ee61e"/>
</g>
<rect x="75.7" y="411.9" width="714.3" height="296.9" fill="none" stroke="#3a3a3a" stroke-width="1.6"/>
<path d="M69.7 708.8H75.7M72.5 692.3H75.7M69.7 675.8H75.7M72.5 659.3H75.7M69.7 642.8H75.7M72.5 626.3H75.7M69.7 609.8H75.7M72.5 593.3H75.7M69.7 576.8H75.7M72.5 560.3H75.7M69.7 543.9H75.7M72.5 527.4H75.7M69.7 510.9H75.7M72.5 494.4H75.7M69.7 477.9H75.7M72.5 461.4H75.7M69.7 444.9H75.7M72.5 428.4H75.7M69.7 411.9H75.7M75.7 708.8V715.6M123.3 708.8V712.3M170.9 708.8V715.6M218.6 708.8V712.3M266.2 708.8V715.6M313.8 708.8V712.3M361.4 708.8V715.6M409.0 708.8V712.3M456.7 708.8V715.6M504.3 708.8V712.3M551.9 708.8V715.6M599.5 708.8V712.3M647.1 708.8V715.6M694.8 708.8V712.3M742.4 708.8V715.6M790.0 708.8V712.3" stroke="#3a3a3a" stroke-width="1.6" fill="none"/>
<g font-size="16">
<text x="65.2" y="713.8" text-anchor="end">0</text>
<text x="65.2" y="680.8" text-anchor="end">200</text>
<text x="65.2" y="647.8" text-anchor="end">400</text>
<text x="65.2" y="614.8" text-anchor="end">600</text>
<text x="65.2" y="581.8" text-anchor="end">800</text>
<text x="65.2" y="548.9" text-anchor="end">1000</text>
<text x="65.2" y="515.9" text-anchor="end">1200</text>
<text x="65.2" y="482.9" text-anchor="end">1400</text>
<text x="65.2" y="449.9" text-anchor="end">1600</text>
<text x="65.2" y="416.9" text-anchor="end">1800</text>
<text x="75.7" y="730.8" text-anchor="middle">0</text>
<text x="170.9" y="730.8" text-anchor="middle">20</text>
<text x="266.2" y="730.8" text-anchor="middle">40</text>
<text x="361.4" y="730.8" text-anchor="middle">60</text>
<text x="456.7" y="730.8" text-anchor="middle">80</text>
<text x="551.9" y="730.8" text-anchor="middle">100</text>
<text x="647.1" y="730.8" text-anchor="middle">120</text>
<text x="742.4" y="730.8" text-anchor="middle">140</text>
</g>
<text transform="translate(24.4,692.3) rotate(-90)" font-size="19" textLength="240.5" lengthAdjust="spacingAndGlyphs">Discharge Capacity(mAh g<tspan dy="-9" font-size="12">-1</tspan><tspan dy="9">)</tspan></text>
<text x="372.0" y="758.5" font-size="18.3" textLength="121.5" lengthAdjust="spacingAndGlyphs">Cycle Numbers</text>
<text x="668.0" y="434.6" font-size="17.0" textLength="108.5" lengthAdjust="spacingAndGlyphs">S-CNTs@CNT</text>
<text x="314.6" y="449.5" font-size="16.8" textLength="39.0" lengthAdjust="spacingAndGlyphs">0.1 C</text>
<text x="247.6" y="575.6" font-size="16.8" textLength="25.0" lengthAdjust="spacingAndGlyphs">1 C</text>
<text x="386.6" y="576.5" font-size="16.8" textLength="26.5" lengthAdjust="spacingAndGlyphs">2 C</text>
<text x="549.8" y="576.6" font-size="16.8" textLength="26.0" lengthAdjust="spacingAndGlyphs">5 C</text>
<text x="80.6" y="679.5" font-size="16.8" textLength="60.5" lengthAdjust="spacingAndGlyphs">1.5 - 3 V</text>
<text x="80.8" y="698.8" font-size="17.2" textLength="122.5" lengthAdjust="spacingAndGlyphs">1 C = 1670 mA g</text>
<text x="204" y="691.6" font-size="15.5" textLength="12" lengthAdjust="spacingAndGlyphs">-1</text>
<line x1="260.3" y1="483.5" x2="305.1" y2="460.0" stroke="#000" stroke-width="2.0"/><polygon points="314.4,455.1 305.5,465.0 301.2,456.8" fill="#000"/>
<line x1="228.8" y1="512.3" x2="253.0" y2="550.9" stroke="#000" stroke-width="2.0"/><polygon points="258.6,559.8 248.1,551.7 255.9,546.8" fill="#000"/>
<line x1="363.4" y1="519.9" x2="387.9" y2="550.4" stroke="#000" stroke-width="2.0"/><polygon points="394.5,558.6 383.1,551.7 390.3,546.0" fill="#000"/>
<line x1="530.7" y1="535.7" x2="543.6" y2="550.7" stroke="#000" stroke-width="2.0"/><polygon points="550.4,558.7 538.8,552.2 545.8,546.2" fill="#000"/>
</svg>
</body></html>
